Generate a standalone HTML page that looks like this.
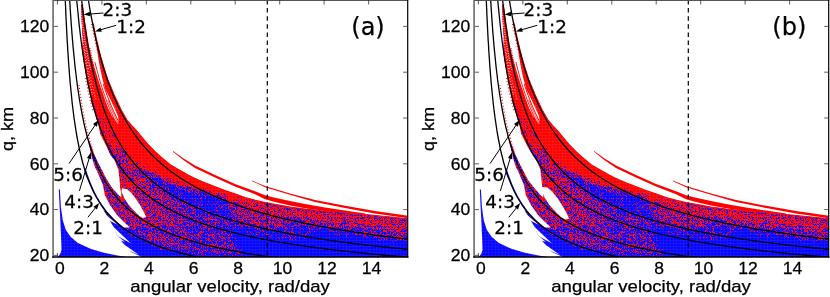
<!DOCTYPE html>
<html><head><meta charset="utf-8"><title>figure</title>
<style>
html,body{margin:0;padding:0;background:#fff;}
svg{display:block;}
text{font-family:"Liberation Sans",sans-serif;fill:#000;stroke:#000;stroke-width:0.25px;}
svg{will-change:transform;}
.dj{font-family:"DejaVu Sans","Liberation Sans",sans-serif;}
</style></head><body>
<svg width="830" height="297" viewBox="0 0 830 297">
<defs>
<pattern id="bl" width="3.36" height="3.0" patternUnits="userSpaceOnUse">
<rect width="3.36" height="3.0" fill="#0505ff"/>
</pattern>
<filter id="spk" filterUnits="userSpaceOnUse" x="40" y="-10" width="390" height="280" color-interpolation-filters="sRGB">
<feGaussianBlur in="SourceGraphic" stdDeviation="3" result="g"/>
<feTurbulence type="fractalNoise" baseFrequency="2.37 1.93" numOctaves="1" seed="7" result="t"/>
<feColorMatrix in="t" type="matrix" values="3 0 0 0 -1  0 0 0 0 0  0 0 0 0 0  0 0 0 0 1" result="t2"/>
<feComposite in="t2" in2="g" operator="arithmetic" k1="0" k2="0.8" k3="1" k4="-0.4" result="s"/>
<feColorMatrix in="s" type="matrix" values="0 0 0 0 1  0 0 0 0 0  0 0 0 0 0  40 0 0 0 -20" result="th"/>
<feGaussianBlur in="th" stdDeviation="0.45"/>
</filter>
<pattern id="gr" width="3.36" height="3.0" patternUnits="userSpaceOnUse">
<rect width="0.9" height="3.0" fill="#fff" fill-opacity="0.085"/>
<rect x="0.9" width="2.46" height="0.8" fill="#fff" fill-opacity="0.085"/>
</pattern>
<clipPath id="pa"><rect x="54" y="0" width="353.6" height="257"/></clipPath>
</defs>
<rect width="830" height="297" fill="#fff"/>

<g transform="translate(0,0)">
<g clip-path="url(#pa)">
<path d="M57.4 258.0 L58.4 256.2 L60.4 253.5 L61.5 250.0 L61.2 240.0 L60.3 220.0 L59.5 205.0 L58.8 189.4 L59.9 189.4 L60.9 207.0 L62.8 220.4 L65.9 229.9 L70.6 236.7 L77.5 242.7 L90.4 248.8 L103.9 252.8 L117.4 255.5 L133.0 258.0Z" fill="url(#bl)"/>
<clipPath id="cba"><path d="M81.2 5.0 L82.8 5.0 L83.2 8.0 L83.5 11.0 L83.9 14.0 L84.3 17.0 L84.7 20.0 L85.0 22.0 L93.0 24.0 L93.3 24.0 L93.9 27.0 L94.5 30.0 L95.1 33.0 L95.8 36.0 L96.4 39.0 L97.1 42.0 L97.9 45.0 L98.6 48.0 L99.3 51.0 L100.1 54.0 L100.9 57.0 L101.8 60.0 L102.6 63.0 L103.5 66.0 L104.4 69.0 L105.4 72.0 L106.3 75.0 L107.3 78.0 L108.0 80.0 L111.3 88.0 L114.2 95.0 L121.2 110.0 L127.0 120.0 L133.0 127.0 L136.9 131.0 L140.2 135.2 L147.7 144.2 L155.3 151.8 L162.9 158.6 L170.5 165.0 L177.0 168.7 L182.9 172.0 L188.0 174.9 L193.5 177.7 L199.0 180.2 L205.6 183.0 L215.2 186.8 L225.0 190.5 L235.4 194.0 L245.0 197.5 L255.6 200.4 L265.0 202.6 L275.0 204.4 L290.0 207.0 L305.0 209.0 L325.0 211.0 L345.0 212.5 L370.0 215.0 L391.0 217.0 L416.0 219.5 L416.0 260.0 L138.0 260.0 L135.4 255.6 L129.3 250.5 L123.3 243.4 L117.2 235.4 L113.2 226.3 L107.0 216.0 L101.0 206.0 L96.5 198.0 L92.0 189.0 L88.5 181.0 L86.0 176.0 L84.7 172.0 L84.3 168.0 L95.3 168.0 L92.7 160.0 L90.7 152.0 L89.3 145.0 L88.7 140.0 L90.8 100.0 L91.5 100.0 L90.7 97.0 L90.0 94.0 L89.3 91.0 L88.7 88.0 L88.0 85.0 L87.4 82.0 L86.8 79.0 L86.3 76.0 L85.7 73.0 L85.2 70.0 L84.7 67.0 L84.2 64.0 L83.7 61.0 L83.2 58.0 L82.8 55.0 L82.3 52.0 L82.6 46.0 L82.8 40.0 L82.3 30.0 L81.4 18.0Z"/></clipPath>
<path d="M81.2 5.0 L82.8 5.0 L83.2 8.0 L83.5 11.0 L83.9 14.0 L84.3 17.0 L84.7 20.0 L85.0 22.0 L93.0 24.0 L93.3 24.0 L93.9 27.0 L94.5 30.0 L95.1 33.0 L95.8 36.0 L96.4 39.0 L97.1 42.0 L97.9 45.0 L98.6 48.0 L99.3 51.0 L100.1 54.0 L100.9 57.0 L101.8 60.0 L102.6 63.0 L103.5 66.0 L104.4 69.0 L105.4 72.0 L106.3 75.0 L107.3 78.0 L108.0 80.0 L111.3 88.0 L114.2 95.0 L121.2 110.0 L127.0 120.0 L133.0 127.0 L136.9 131.0 L140.2 135.2 L147.7 144.2 L155.3 151.8 L162.9 158.6 L170.5 165.0 L177.0 168.7 L182.9 172.0 L188.0 174.9 L193.5 177.7 L199.0 180.2 L205.6 183.0 L215.2 186.8 L225.0 190.5 L235.4 194.0 L245.0 197.5 L255.6 200.4 L265.0 202.6 L275.0 204.4 L290.0 207.0 L305.0 209.0 L325.0 211.0 L345.0 212.5 L370.0 215.0 L391.0 217.0 L416.0 219.5 L416.0 260.0 L138.0 260.0 L135.4 255.6 L129.3 250.5 L123.3 243.4 L117.2 235.4 L113.2 226.3 L107.0 216.0 L101.0 206.0 L96.5 198.0 L92.0 189.0 L88.5 181.0 L86.0 176.0 L84.7 172.0 L84.3 168.0 L95.3 168.0 L92.7 160.0 L90.7 152.0 L89.3 145.0 L88.7 140.0 L90.8 100.0 L91.5 100.0 L90.7 97.0 L90.0 94.0 L89.3 91.0 L88.7 88.0 L88.0 85.0 L87.4 82.0 L86.8 79.0 L86.3 76.0 L85.7 73.0 L85.2 70.0 L84.7 67.0 L84.2 64.0 L83.7 61.0 L83.2 58.0 L82.8 55.0 L82.3 52.0 L82.6 46.0 L82.8 40.0 L82.3 30.0 L81.4 18.0Z" fill="url(#bl)"/>
<g clip-path="url(#cba)"><g filter="url(#spk)">
<rect x="40" y="-10" width="390" height="280" fill="#000"/>
<path d="M80.0 140.0 L92.0 112.0 L96.5 112.0 L99.2 116.0 L107.0 122.0 L111.2 128.0 L115.2 135.0 L120.9 145.0 L127.6 155.0 L133.8 163.0 L140.0 169.8 L150.0 179.3 L160.0 187.1 L170.0 193.8 L185.0 202.1 L200.0 209.0 L215.0 214.7 L224.0 217.8 L221.0 221.0 L227.0 229.0 L233.0 237.0 L240.0 247.0 L246.0 256.0 L249.0 262.0 L240.0 262.0 L225.0 258.5 L200.0 254.0 L175.0 250.5 L163.0 248.5 L150.0 243.3 L140.0 238.7 L130.0 233.1 L120.0 225.9 L110.0 216.6 L100.0 203.7 L92.0 172.0 L85.0 155.0Z" fill="rgb(140,0,0)"/>
<path d="M95.0 125.0 L100.2 134.0 L106.3 146.2 L113.3 160.3 L116.4 168.4 L118.5 180.0 L119.6 190.0 L120.0 200.0 L128.0 200.0 L138.5 190.0 L128.2 180.0 L118.4 168.0 L113.1 160.0 L105.4 146.0 L100.1 134.0 L96.7 125.0 L94.3 118.0Z" fill="rgb(184,0,0)"/>
<path d="M95.0 125.0 L100.2 134.0 L106.3 146.2 L113.3 160.3 L115.5 166.0 L117.0 166.0 L113.1 160.0 L105.4 146.0 L100.1 134.0 L96.7 125.0 L94.3 118.0Z" fill="rgb(230,0,0)"/>
<path d="M93.9 108.0 L93.8 118.0 L98.0 130.0 L103.0 142.0 L106.9 150.0 L126.1 150.0 L121.1 142.0 L114.7 130.0 L109.3 118.0 L105.5 108.0Z" fill="rgb(204,0,0)"/>
<path d="M165.0 190.6 L178.0 198.5 L190.0 204.6 L190.0 253.0 L178.0 251.0 L165.0 249.0Z" fill="rgb(120,0,0)"/>
<path d="M188.0 203.6 L200.0 209.0 L215.0 214.7 L224.0 217.8 L221.0 221.0 L227.0 229.0 L233.0 237.0 L240.0 247.0 L246.0 256.0 L249.0 262.0 L240.0 262.0 L225.0 258.5 L200.0 254.0 L188.0 252.3Z" fill="rgb(97,0,0)"/>
<path d="M222.0 218.1 L235.0 222.1 L250.0 226.2 L264.0 229.5 L258.0 235.2 L245.0 232.4 L232.0 229.3 L224.0 226.0Z" fill="rgb(69,0,0)"/>
<path d="M140.0 222.0 L150.0 227.3 L175.0 230.0 L200.0 232.4 L220.0 238.0 L236.0 246.0 L236.0 250.0 L220.0 245.0 L200.0 240.8 L175.0 239.0 L150.0 235.8 L140.0 230.0Z" fill="rgb(102,0,0)"/>
<path d="M133.8 163.0 L145.0 169.5 L152.6 173.3 L160.2 177.9 L167.7 181.7 L175.3 183.9 L182.9 186.2 L190.5 188.5 L198.0 190.8 L205.6 193.0 L215.0 195.5 L224.3 197.3 L240.0 199.0 L252.0 200.3 L267.0 203.0 L267.0 229.2 L256.0 226.7 L245.0 223.9 L230.0 219.6 L215.0 214.7 L200.0 209.0 L185.0 202.1 L170.0 193.8 L160.0 187.1 L150.0 179.3 L140.0 169.8Z" fill="rgb(38,0,0)"/>
<path d="M225.0 190.5 L235.4 194.0 L245.0 197.5 L255.6 200.4 L265.0 202.6 L275.0 204.4 L290.0 207.0 L305.0 209.0 L325.0 211.0 L345.0 212.5 L370.0 215.0 L391.0 217.0 L416.0 219.5 L416.0 242.0 L407.0 239.5 L350.0 231.4 L325.0 231.0 L300.0 231.0 L285.0 231.0 L267.0 229.2 L256.0 226.7 L245.0 223.9 L230.0 219.6 L225.0 199.0Z" fill="rgb(128,0,0)"/>
<path d="M285.0 218.8 L300.0 222.2 L325.0 227.1 L350.0 231.4 L380.0 235.7 L416.0 240.1 L416.0 244.6 L380.0 240.2 L350.0 235.9 L325.0 231.6 L300.0 226.7 L285.0 223.3Z" fill="rgb(76,0,0)"/>
<path d="M200.0 209.5 L215.0 215.2 L230.0 220.1 L245.0 224.4 L256.0 227.2 L267.0 229.7 L285.0 233.4 L300.0 236.1 L320.0 239.3 L335.0 241.5 L335.0 242.5 L320.0 241.8 L300.0 240.1 L285.0 237.9 L267.0 234.7 L256.0 232.7 L245.0 229.9 L230.0 225.6 L215.0 220.7 L200.0 215.0Z" fill="rgb(107,0,0)"/>
<path d="M225.0 190.5 L235.4 194.0 L245.0 197.5 L255.6 200.4 L265.0 202.6 L275.0 204.4 L290.0 207.0 L305.0 209.0 L325.0 211.0 L345.0 212.5 L370.0 215.0 L391.0 217.0 L416.0 219.5 L416.0 231.0 L416.0 229.5 L391.0 227.0 L370.0 225.0 L345.0 222.5 L325.0 221.0 L305.0 219.0 L290.0 217.0 L275.0 214.4 L265.0 212.6 L255.6 210.4 L245.0 207.5 L235.4 204.0 L225.0 200.5Z" fill="rgb(168,0,0)"/>
<path d="M225.0 190.5 L235.4 194.0 L245.0 197.5 L255.6 200.4 L265.0 202.6 L275.0 204.4 L290.0 207.0 L305.0 209.0 L325.0 211.0 L345.0 212.5 L370.0 215.0 L391.0 217.0 L416.0 219.5 L416.0 225.0 L416.0 223.5 L391.0 221.0 L370.0 219.0 L345.0 216.5 L325.0 215.0 L305.0 213.0 L290.0 211.0 L275.0 208.4 L265.0 206.6 L255.6 204.4 L245.0 201.5 L235.4 198.0 L225.0 194.5Z" fill="rgb(217,0,0)"/>
<path d="M87.2 -3.0 L88.8 -3.0 L89.2 0.0 L89.5 3.0 L89.9 6.0 L90.3 9.0 L90.7 12.0 L91.0 14.0 L99.0 16.0 L99.3 16.0 L99.9 19.0 L100.5 22.0 L101.1 25.0 L101.8 28.0 L102.4 31.0 L103.1 34.0 L103.9 37.0 L104.6 40.0 L105.3 43.0 L106.1 46.0 L106.9 49.0 L107.8 52.0 L108.6 55.0 L109.5 58.0 L110.4 61.0 L111.4 64.0 L112.3 67.0 L113.3 70.0 L114.0 72.0 L117.3 80.0 L120.2 87.0 L127.2 102.0 L133.0 112.0 L139.0 119.0 L142.9 123.0 L146.2 127.2 L153.7 136.2 L161.3 143.8 L168.9 150.6 L176.5 157.0 L183.0 160.7 L188.9 164.0 L194.0 166.9 L199.5 169.7 L205.0 172.2 L211.6 175.0 L221.2 178.8 L231.0 182.5 L241.4 186.0 L251.0 189.5 L261.6 192.4 L262.0 200.5 L252.0 200.3 L240.0 199.0 L224.3 197.3 L215.0 195.5 L205.6 193.0 L198.0 190.8 L190.5 188.5 L182.9 186.2 L175.3 183.9 L167.7 181.7 L160.2 177.9 L152.6 173.3 L145.0 169.5 L133.8 163.0 L127.6 155.0 L120.9 145.0 L115.2 135.0 L111.2 128.0 L107.0 122.0 L99.2 116.0 L96.5 112.0 L95.8 112.0 L85.8 100.0 L85.8 100.0 L85.0 97.0 L84.3 94.0 L83.6 91.0 L83.0 88.0 L82.3 85.0 L81.7 82.0 L81.1 79.0 L80.6 76.0 L80.0 73.0 L79.5 70.0 L79.0 67.0 L78.5 64.0 L78.0 61.0 L77.5 58.0 L77.1 55.0 L76.6 52.0 L76.2 49.0 L75.8 46.0 L75.4 43.0 L75.0 40.0 L71.6 0.0Z" fill="rgb(255,0,0)"/>
</g></g>
<path d="M81.2 5.0 L82.8 5.0 L83.2 8.0 L83.5 11.0 L83.9 14.0 L84.3 17.0 L84.7 20.0 L85.0 22.0 L93.0 24.0 L93.3 24.0 L93.9 27.0 L94.5 30.0 L95.1 33.0 L95.8 36.0 L96.4 39.0 L97.1 42.0 L97.9 45.0 L98.6 48.0 L99.3 51.0 L100.1 54.0 L100.9 57.0 L101.8 60.0 L102.6 63.0 L103.5 66.0 L104.4 69.0 L105.4 72.0 L106.3 75.0 L107.3 78.0 L108.0 80.0 L111.3 88.0 L114.2 95.0 L121.2 110.0 L127.0 120.0 L133.0 127.0 L136.9 131.0 L140.2 135.2 L147.7 144.2 L155.3 151.8 L162.9 158.6 L170.5 165.0 L177.0 168.7 L182.9 172.0 L188.0 174.9 L193.5 177.7 L199.0 180.2 L205.6 183.0 L215.2 186.8 L225.0 190.5 L235.4 194.0 L245.0 197.5 L255.6 200.4 L265.0 202.6 L275.0 204.4 L290.0 207.0 L305.0 209.0 L325.0 211.0 L345.0 212.5 L370.0 215.0 L391.0 217.0 L416.0 219.5" fill="none" stroke="#ff0000" stroke-width="1.1"/>
<path d="M85.5 168.0 L86.4 171.0 L87.4 174.0 L88.5 177.0 L89.6 180.0 L90.8 183.0 L92.0 186.0 L93.4 189.0 L94.8 192.0 L96.3 195.0 L98.0 198.0 L99.8 201.0 L101.7 204.0 L103.8 207.0 L106.0 210.0 L108.5 213.0 L111.1 216.0 L114.0 219.0 L117.1 221.9 L120.2 224.6 L123.3 227.1 L124.0 227.6 L129.8 227.6 L124.0 222.0 L117.0 215.0 L110.0 205.0 L104.8 195.0 L102.9 185.0 L96.6 170.0 L95.3 168.0 L85.5 168.0Z" fill="#fff"/>
<path d="M80.4 100.0 L84.1 120.0 L89.1 140.0 L94.6 155.0 L99.3 165.0 L107.1 180.0 L112.3 188.0 L116.5 192.8 L119.5 196.0 L121.3 197.2 L121.2 193.0 L120.4 189.4 L119.5 179.3 L118.3 169.2 L114.6 160.4 L110.4 155.1 L106.4 146.2 L100.2 134.0 L98.4 125.0 L90.6 100.0Z" fill="#fff"/>
<path d="M121.6 190.5 L122.3 188.3 L126.7 188.9 L131.2 192.7 L135.8 198.7 L140.3 205.6 L144.1 212.4 L146.2 217.3 L142.6 218.0 L138.8 215.6 L133.5 210.3 L128.2 204.2 L124.4 198.2 L121.8 192.6Z" fill="#fff"/>
<path d="M82.9 4.0 L85.2 22.0 L88.8 45.0 L91.2 56.0 L94.3 67.0 L97.7 78.0 L101.6 90.0 L105.0 100.0 L108.0 108.0 L112.0 116.0 L118.0 124.0 L118.6 122.0 L118.2 116.0 L115.3 108.0 L110.8 100.0 L105.6 90.0 L102.2 78.0 L99.9 67.0 L97.9 56.0 L96.3 45.0 L93.7 30.0 L92.3 22.0Z" fill="#fff"/>
<path d="M112.5 226.0 L131.0 243.5 L117.5 236.0Z" fill="#fff"/>
<path d="M122.0 243.0 L139.0 255.0 L127.5 250.0Z" fill="#fff"/>
<path d="M105.5 214.5 L118.0 225.0 L108.5 220.0Z" fill="#fff"/>
<path d="M100.5 205.5 L109.0 212.5 L103.0 210.0Z" fill="#fff"/>
<path d="M116.5 235.0 L125.0 242.0 L119.0 240.0Z" fill="#fff"/>
<path d="M131.0 252.0 L144.0 258.0 L134.0 256.0Z" fill="#fff"/>
<path d="M94.9 62.0 L95.6 65.0 L96.4 68.0 L97.2 71.0 L98.0 74.0 L98.8 77.0 L99.7 80.0 L100.6 83.0 L101.5 86.0 L102.4 89.0 L103.4 92.0 L104.5 95.0 L105.5 98.0 L106.6 101.0 L107.8 104.0 L108.9 107.0 L110.2 110.0 L111.5 113.0 L112.8 116.0 L114.2 119.0 L115.1 121.0" fill="none" stroke="#ff0000" stroke-width="0.9"/>
<path d="M103.3 84.0 L104.2 87.0 L105.2 90.0 L106.3 93.0 L107.4 96.0 L108.5 99.0 L109.7 102.0 L110.9 105.0 L112.2 108.0 L113.5 111.0 L114.9 114.0 L116.3 117.0 L117.8 120.0 L119.3 123.0" fill="none" stroke="#ff0000" stroke-width="1.0"/>
<path d="M109.8 96.0 L110.9 99.0 L112.2 102.0 L113.4 105.0 L114.8 108.0 L116.1 111.0 L117.6 114.0 L119.1 117.0 L120.6 120.0 L121.7 122.0" fill="none" stroke="#ff0000" stroke-width="0.9"/>
<path d="M107.7 100.0 L108.9 103.0 L110.1 106.0 L111.3 109.0 L112.6 112.0 L114.0 115.0 L115.4 118.0 L116.9 121.0 L117.9 123.0" fill="none" stroke="#ff0000" stroke-width="0.7"/>
<path d="M100.4 88.0 L101.4 91.0 L102.4 94.0 L103.4 97.0 L104.4 100.0 L105.5 103.0 L106.6 106.0 L107.8 109.0 L109.0 112.0 L110.3 115.0 L111.6 118.0" fill="none" stroke="#ff0000" stroke-width="0.7"/>
<path d="M91.4 24.0 L92.0 27.0 L92.6 30.0 L93.2 33.0 L93.9 36.0 L94.5 39.0 L95.2 42.0 L96.0 45.0 L96.7 48.0 L97.2 50.0" fill="none" stroke="#ff0000" stroke-width="1.1" stroke-dasharray="1 2.2"/>
<path d="M80.4 8.0 L80.7 11.0 L81.1 14.0 L81.5 17.0 L81.9 20.0 L82.3 23.0 L82.7 26.0 L83.2 29.0 L83.6 32.0 L84.1 35.0 L84.5 38.0 L85.0 41.0 L85.5 44.0 L86.0 47.0 L86.6 50.0 L87.1 53.0 L87.7 56.0 L88.3 59.0 L88.9 62.0 L89.5 65.0 L90.1 68.0 L90.6 70.0" fill="none" stroke="#fff" stroke-width="1.0" stroke-dasharray="0.9 1.5"/>
<path d="M82.4 36.0 L82.8 39.0 L83.2 42.0 L83.5 45.0 L84.0 48.0 L84.4 51.0 L84.8 54.0 L85.3 57.0 L85.7 60.0 L86.2 63.0 L86.7 66.0 L87.2 69.0 L87.7 72.0 L88.3 75.0 L88.8 78.0 L89.4 81.0 L90.0 84.0 L90.7 87.0 L91.3 90.0 L92.0 93.0 L92.4 95.0" fill="none" stroke="#fff" stroke-width="1.0" stroke-dasharray="0.8 1.9"/>
<path d="M85.0 50.0 L85.5 53.0 L86.0 56.0 L86.6 59.0 L87.1 62.0 L87.7 65.0 L88.3 68.0 L88.9 71.0 L89.6 74.0 L90.2 77.0 L90.9 80.0 L91.6 83.0 L92.4 86.0 L93.1 89.0 L93.9 92.0 L94.7 95.0 L95.6 98.0 L96.2 100.0" fill="none" stroke="#fff" stroke-width="0.9" stroke-dasharray="0.8 2.3"/>
<path d="M90.0 48.0 L90.6 51.0 L91.1 54.0 L91.7 57.0 L92.3 60.0 L92.9 63.0 L93.5 66.0 L94.2 69.0 L94.8 72.0 L95.5 75.0 L96.3 78.0 L97.0 81.0 L97.8 84.0 L98.6 87.0 L99.4 90.0 L100.0 92.0" fill="none" stroke="#ff0000" stroke-width="1.2" stroke-dasharray="1 1.3"/>
<path d="M85.3 78.0 L85.9 81.0 L86.5 84.0 L87.2 87.0 L87.8 90.0 L88.5 93.0 L89.2 96.0 L89.9 99.0 L90.7 102.0 L91.4 105.0 L92.3 108.0 L93.1 111.0 L93.4 112.0" fill="none" stroke="#ff0000" stroke-width="1.1" stroke-dasharray="1 2.2"/>
<path d="M78.9 85.0 L79.4 88.0 L79.8 91.0 L80.2 94.0 L80.7 97.0 L81.2 100.0 L81.7 103.0 L82.2 106.0 L82.7 109.0 L83.3 112.0 L83.9 115.0 L84.5 118.0 L85.1 121.0 L85.7 124.0 L86.4 127.0 L87.1 130.0 L87.9 133.0 L88.7 136.0 L89.5 139.0 L90.3 142.0 L91.2 145.0 L92.2 148.0 L92.8 150.0" fill="none" stroke="#ff0000" stroke-width="1.1" stroke-dasharray="1 2"/>
<path d="M173.0 151.0 L184.0 158.8 L195.0 165.6 L215.0 174.9 L235.0 184.0 L255.0 191.3 L265.0 195.2 L275.0 197.8 L290.0 201.0 L305.0 204.0 L325.0 207.5 L345.0 210.5 L365.0 213.5 L365.0 215.0 L345.0 213.0 L325.0 211.0 L305.0 208.3 L290.0 205.5 L275.0 202.0 L265.0 199.3 L255.0 194.2 L235.0 186.6 L215.0 177.4 L195.0 167.9 L184.0 160.4 L173.0 151.7Z" fill="#ff0000"/>
<path d="M252.0 180.6 L265.0 186.1 L290.0 193.5 L315.0 199.9 L345.0 205.8 L375.0 211.1 L416.0 216.8 L416.0 219.3 L375.0 213.4 L345.0 208.0 L315.0 201.9 L290.0 194.8 L265.0 187.2 L252.0 181.2Z" fill="#ff0000"/>
<path d="M81.2 5.0 L82.8 5.0 L83.2 8.0 L83.5 11.0 L83.9 14.0 L84.3 17.0 L84.7 20.0 L85.0 22.0 L93.0 24.0 L93.3 24.0 L93.9 27.0 L94.5 30.0 L95.1 33.0 L95.8 36.0 L96.4 39.0 L97.1 42.0 L97.9 45.0 L98.6 48.0 L99.3 51.0 L100.1 54.0 L100.9 57.0 L101.8 60.0 L102.6 63.0 L103.5 66.0 L104.4 69.0 L105.4 72.0 L106.3 75.0 L107.3 78.0 L108.0 80.0 L111.3 88.0 L114.2 95.0 L121.2 110.0 L127.0 120.0 L133.0 127.0 L136.9 131.0 L140.2 135.2 L147.7 144.2 L155.3 151.8 L162.9 158.6 L170.5 165.0 L177.0 168.7 L182.9 172.0 L188.0 174.9 L193.5 177.7 L199.0 180.2 L205.6 183.0 L215.2 186.8 L225.0 190.5 L235.4 194.0 L245.0 197.5 L255.6 200.4 L265.0 202.6 L275.0 204.4 L290.0 207.0 L305.0 209.0 L325.0 211.0 L345.0 212.5 L370.0 215.0 L391.0 217.0 L416.0 219.5 L416.0 260.0 L138.0 260.0 L135.4 255.6 L129.3 250.5 L123.3 243.4 L117.2 235.4 L113.2 226.3 L107.0 216.0 L101.0 206.0 L96.5 198.0 L92.0 189.0 L88.5 181.0 L86.0 176.0 L84.7 172.0 L84.3 168.0 L95.3 168.0 L92.7 160.0 L90.7 152.0 L89.3 145.0 L88.7 140.0 L90.8 100.0 L91.5 100.0 L90.7 97.0 L90.0 94.0 L89.3 91.0 L88.7 88.0 L88.0 85.0 L87.4 82.0 L86.8 79.0 L86.3 76.0 L85.7 73.0 L85.2 70.0 L84.7 67.0 L84.2 64.0 L83.7 61.0 L83.2 58.0 L82.8 55.0 L82.3 52.0 L82.6 46.0 L82.8 40.0 L82.3 30.0 L81.4 18.0Z" fill="url(#gr)"/>
<path d="M57.4 258.0 L58.4 256.2 L60.4 253.5 L61.5 250.0 L61.2 240.0 L60.3 220.0 L59.5 205.0 L58.8 189.4 L59.9 189.4 L60.9 207.0 L62.8 220.4 L65.9 229.9 L70.6 236.7 L77.5 242.7 L90.4 248.8 L103.9 252.8 L117.4 255.5 L133.0 258.0Z" fill="url(#gr)"/>
<path d="M65.2 -3.0 L65.3 -1.0 L65.3 1.0 L65.4 3.0 L65.5 5.0 L65.6 7.0 L65.7 9.0 L65.8 11.0 L65.8 13.0 L65.9 15.0 L66.0 17.0 L66.1 19.0 L66.2 21.0 L66.3 23.0 L66.4 25.0 L66.5 27.0 L66.6 29.0 L66.7 31.0 L66.8 33.0 L66.9 35.0 L67.0 37.0 L67.1 39.0 L67.2 41.0 L67.4 43.0 L67.5 45.0 L67.6 47.0 L67.7 49.0 L67.8 51.0 L68.0 53.0 L68.1 55.0 L68.2 57.0 L68.4 59.0 L68.5 61.0 L68.6 63.0 L68.8 65.0 L68.9 67.0 L69.1 69.0 L69.2 71.0 L69.4 73.0 L69.5 75.0 L69.7 77.0 L69.9 79.0 L70.0 81.0 L70.2 83.0 L70.4 85.0 L70.6 87.0 L70.8 89.0 L71.0 91.0 L71.2 93.0 L71.4 95.0 L71.6 97.0 L71.8 99.0 L72.0 101.0 L72.2 103.0 L72.4 105.0 L72.7 107.0 L72.9 109.0 L73.2 111.0 L73.4 113.0 L73.7 115.0 L73.9 117.0 L74.2 119.0 L74.5 121.0 L74.8 123.0 L75.1 125.0 L75.4 127.0 L75.7 129.0 L76.0 131.0 L76.3 133.0 L76.7 135.0 L77.0 137.0 L77.4 139.0 L77.8 141.0 L78.2 143.0 L78.6 145.0 L79.0 147.0 L79.4 149.0 L79.8 151.0 L80.3 153.0 L80.8 155.0 L81.3 157.0 L81.8 159.0 L82.3 161.0 L82.8 163.0 L83.4 165.0 L84.0 167.0 L84.6 169.0 L85.2 171.0 L85.9 173.0 L86.5 175.0 L87.3 177.0 L88.0 179.0 L88.8 181.0 L89.6 183.0 L90.4 185.0 L91.3 187.0 L92.2 189.0 L93.1 191.0 L94.1 193.0 L95.1 195.0 L96.2 197.0 L97.4 199.0 L98.6 201.0 L99.9 203.0 L101.2 205.0 L102.6 207.0 L104.1 209.0 L105.6 211.0 L107.3 213.0 L109.0 215.0 L110.9 217.0 L112.8 219.0 L114.9 221.0 L116.9 222.8 L119.0 224.6 L121.0 226.2 L123.0 227.8 L125.1 229.2 L127.1 230.7 L129.1 232.0 L131.2 233.3 L133.2 234.5 L135.2 235.7 L137.2 236.8 L139.2 237.8 L141.3 238.9 L143.3 239.8 L145.3 240.8 L147.3 241.7 L149.3 242.6 L151.4 243.4 L153.4 244.2 L155.4 245.0 L157.4 245.8 L159.4 246.5 L161.4 247.2 L163.4 247.9 L165.4 248.5 L167.4 249.2 L169.4 249.8 L171.4 250.4 L173.5 251.0 L175.5 251.6 L177.5 252.1 L179.5 252.7 L181.5 253.2 L183.5 253.7 L185.5 254.2 L187.5 254.7 L189.5 255.2 L191.5 255.6 L193.5 256.1 L195.5 256.5 L197.4 256.9 L199.4 257.3 L201.4 257.7 L203.4 258.1 L205.4 258.5 L207.4 258.9 L209.4 259.3 L211.4 259.6 L213.4 260.0 L215.4 260.3 L217.4 260.7 L219.4 261.0 L221.4 261.3 L223.3 261.7 L225.3 262.0 L225.5 262.0" fill="none" stroke="#000" stroke-width="1.3"/>
<path d="M69.5 -3.0 L69.6 -1.0 L69.7 1.0 L69.9 3.0 L70.0 5.0 L70.1 7.0 L70.2 9.0 L70.4 11.0 L70.5 13.0 L70.6 15.0 L70.8 17.0 L70.9 19.0 L71.0 21.0 L71.2 23.0 L71.3 25.0 L71.5 27.0 L71.6 29.0 L71.8 31.0 L71.9 33.0 L72.1 35.0 L72.3 37.0 L72.4 39.0 L72.6 41.0 L72.8 43.0 L72.9 45.0 L73.1 47.0 L73.3 49.0 L73.5 51.0 L73.7 53.0 L73.9 55.0 L74.1 57.0 L74.3 59.0 L74.5 61.0 L74.7 63.0 L74.9 65.0 L75.1 67.0 L75.3 69.0 L75.6 71.0 L75.8 73.0 L76.1 75.0 L76.3 77.0 L76.5 79.0 L76.8 81.0 L77.1 83.0 L77.3 85.0 L77.6 87.0 L77.9 89.0 L78.2 91.0 L78.5 93.0 L78.8 95.0 L79.1 97.0 L79.4 99.0 L79.7 101.0 L80.1 103.0 L80.4 105.0 L80.8 107.0 L81.1 109.0 L81.5 111.0 L81.9 113.0 L82.3 115.0 L82.7 117.0 L83.1 119.0 L83.5 121.0 L83.9 123.0 L84.4 125.0 L84.8 127.0 L85.3 129.0 L85.8 131.0 L86.3 133.0 L86.8 135.0 L87.3 137.0 L87.9 139.0 L88.5 141.0 L89.0 143.0 L89.6 145.0 L90.3 147.0 L90.9 149.0 L91.6 151.0 L92.3 153.0 L93.0 155.0 L93.7 157.0 L94.5 159.0 L95.3 161.0 L96.1 163.0 L96.9 165.0 L97.8 167.0 L98.7 169.0 L99.7 171.0 L100.7 173.0 L101.7 175.0 L102.8 177.0 L103.9 179.0 L105.0 181.0 L106.2 183.0 L107.5 185.0 L108.8 187.0 L110.2 189.0 L111.6 191.0 L113.1 193.0 L114.7 195.0 L116.4 197.0 L118.1 199.0 L119.9 201.0 L121.8 203.0 L123.9 205.0 L125.9 206.9 L127.9 208.7 L130.0 210.5 L132.0 212.1 L134.0 213.7 L136.1 215.2 L138.1 216.7 L140.1 218.1 L142.1 219.4 L144.2 220.7 L146.2 221.9 L148.2 223.1 L150.2 224.2 L152.3 225.3 L154.3 226.4 L156.3 227.4 L158.3 228.4 L160.3 229.3 L162.3 230.3 L164.3 231.2 L166.4 232.0 L168.4 232.9 L170.4 233.7 L172.4 234.5 L174.4 235.2 L176.4 236.0 L178.4 236.7 L180.4 237.4 L182.4 238.1 L184.4 238.7 L186.5 239.4 L188.5 240.0 L190.5 240.6 L192.5 241.2 L194.5 241.8 L196.5 242.4 L198.5 243.0 L200.5 243.5 L202.5 244.0 L204.5 244.5 L206.5 245.1 L208.5 245.6 L210.5 246.0 L212.5 246.5 L214.5 247.0 L216.5 247.4 L218.5 247.9 L220.5 248.3 L222.5 248.7 L224.5 249.2 L226.5 249.6 L228.5 250.0 L230.4 250.4 L232.4 250.7 L234.4 251.1 L236.4 251.5 L238.4 251.9 L240.4 252.2 L242.4 252.6 L244.4 252.9 L246.4 253.3 L248.4 253.6 L250.4 253.9 L252.4 254.2 L254.4 254.5 L256.3 254.9 L258.3 255.2 L260.3 255.5 L262.3 255.8 L264.4 256.1 L266.5 256.4 L268.6 256.7 L270.8 257.0 L273.0 257.3 L275.2 257.6 L277.5 257.9 L279.8 258.2 L282.1 258.5 L284.5 258.8 L287.0 259.1 L289.4 259.4 L292.0 259.7 L294.5 260.0 L297.2 260.3 L299.8 260.6 L302.5 260.9 L305.3 261.2 L308.1 261.5 L311.0 261.8 L313.3 262.0" fill="none" stroke="#000" stroke-width="1.3"/>
<path d="M76.5 -3.0 L76.6 -1.0 L76.8 1.0 L77.0 3.0 L77.2 5.0 L77.4 7.0 L77.6 9.0 L77.8 11.0 L78.0 13.0 L78.2 15.0 L78.4 17.0 L78.6 19.0 L78.8 21.0 L79.0 23.0 L79.2 25.0 L79.4 27.0 L79.7 29.0 L79.9 31.0 L80.1 33.0 L80.4 35.0 L80.6 37.0 L80.9 39.0 L81.1 41.0 L81.4 43.0 L81.6 45.0 L81.9 47.0 L82.2 49.0 L82.5 51.0 L82.8 53.0 L83.1 55.0 L83.4 57.0 L83.7 59.0 L84.0 61.0 L84.3 63.0 L84.6 65.0 L85.0 67.0 L85.3 69.0 L85.7 71.0 L86.0 73.0 L86.4 75.0 L86.8 77.0 L87.1 79.0 L87.5 81.0 L87.9 83.0 L88.3 85.0 L88.8 87.0 L89.2 89.0 L89.6 91.0 L90.1 93.0 L90.5 95.0 L91.0 97.0 L91.5 99.0 L92.0 101.0 L92.5 103.0 L93.0 105.0 L93.6 107.0 L94.1 109.0 L94.7 111.0 L95.3 113.0 L95.9 115.0 L96.5 117.0 L97.1 119.0 L97.8 121.0 L98.5 123.0 L99.2 125.0 L99.9 127.0 L100.6 129.0 L101.4 131.0 L102.2 133.0 L103.0 135.0 L103.8 137.0 L104.6 139.0 L105.5 141.0 L106.4 143.0 L107.4 145.0 L108.4 147.0 L109.4 149.0 L110.4 151.0 L111.5 153.0 L112.6 155.0 L113.8 157.0 L115.0 159.0 L116.2 161.0 L117.5 163.0 L118.8 165.0 L120.2 167.0 L121.7 169.0 L123.2 171.0 L124.7 173.0 L126.3 175.0 L128.0 177.0 L129.8 179.0 L131.6 181.0 L133.6 183.0 L135.6 185.0 L137.6 186.9 L139.6 188.8 L141.7 190.6 L143.7 192.3 L145.7 193.9 L147.7 195.5 L149.8 197.0 L151.8 198.5 L153.8 199.9 L155.8 201.3 L157.9 202.6 L159.9 203.8 L161.9 205.1 L163.9 206.3 L165.9 207.4 L168.0 208.5 L170.0 209.6 L172.0 210.7 L174.0 211.7 L176.0 212.7 L178.0 213.6 L180.0 214.6 L182.1 215.5 L184.1 216.4 L186.1 217.2 L188.1 218.1 L190.1 218.9 L192.1 219.7 L194.1 220.5 L196.1 221.2 L198.1 222.0 L200.1 222.7 L202.2 223.4 L204.2 224.1 L206.2 224.7 L208.2 225.4 L210.2 226.0 L212.2 226.7 L214.2 227.3 L216.2 227.9 L218.2 228.5 L220.2 229.1 L222.2 229.6 L224.2 230.2 L226.2 230.7 L228.2 231.3 L230.2 231.8 L232.2 232.3 L234.2 232.8 L236.2 233.3 L238.2 233.8 L240.2 234.3 L242.2 234.7 L244.2 235.2 L246.2 235.6 L248.2 236.1 L250.2 236.5 L252.2 236.9 L254.2 237.4 L256.2 237.8 L258.2 238.2 L260.2 238.6 L262.2 239.0 L264.2 239.4 L266.2 239.7 L268.2 240.1 L270.1 240.5 L272.1 240.9 L274.1 241.2 L276.1 241.6 L278.1 241.9 L280.1 242.3 L282.1 242.6 L284.1 242.9 L286.1 243.2 L288.1 243.6 L290.1 243.9 L292.1 244.2 L294.1 244.5 L296.0 244.8 L298.0 245.1 L300.1 245.4 L302.1 245.7 L304.2 246.0 L306.3 246.3 L308.4 246.6 L310.6 246.9 L312.8 247.2 L315.0 247.5 L317.3 247.8 L319.6 248.1 L321.9 248.4 L324.2 248.7 L326.6 249.0 L329.1 249.3 L331.5 249.6 L334.0 249.9 L336.6 250.2 L339.2 250.5 L341.8 250.8 L344.4 251.1 L347.1 251.4 L349.9 251.7 L352.7 252.0 L355.5 252.3 L358.4 252.6 L361.3 252.9 L364.3 253.2 L367.3 253.5 L370.4 253.8 L373.5 254.1 L376.6 254.4 L379.9 254.7 L383.1 255.0 L386.5 255.3 L389.9 255.6 L393.3 255.9 L396.8 256.2 L400.4 256.5 L404.0 256.8 L407.7 257.1 L411.4 257.4 L415.3 257.7" fill="none" stroke="#000" stroke-width="1.3"/>
<path d="M81.3 -3.0 L81.5 -1.0 L81.7 1.0 L82.0 3.0 L82.2 5.0 L82.4 7.0 L82.7 9.0 L82.9 11.0 L83.2 13.0 L83.4 15.0 L83.7 17.0 L84.0 19.0 L84.2 21.0 L84.5 23.0 L84.8 25.0 L85.1 27.0 L85.4 29.0 L85.7 31.0 L86.0 33.0 L86.3 35.0 L86.6 37.0 L86.9 39.0 L87.2 41.0 L87.6 43.0 L87.9 45.0 L88.2 47.0 L88.6 49.0 L89.0 51.0 L89.3 53.0 L89.7 55.0 L90.1 57.0 L90.5 59.0 L90.9 61.0 L91.3 63.0 L91.7 65.0 L92.1 67.0 L92.6 69.0 L93.0 71.0 L93.5 73.0 L93.9 75.0 L94.4 77.0 L94.9 79.0 L95.4 81.0 L95.9 83.0 L96.4 85.0 L97.0 87.0 L97.5 89.0 L98.1 91.0 L98.7 93.0 L99.3 95.0 L99.9 97.0 L100.5 99.0 L101.1 101.0 L101.8 103.0 L102.5 105.0 L103.2 107.0 L103.9 109.0 L104.6 111.0 L105.3 113.0 L106.1 115.0 L106.9 117.0 L107.7 119.0 L108.6 121.0 L109.4 123.0 L110.3 125.0 L111.2 127.0 L112.2 129.0 L113.1 131.0 L114.1 133.0 L115.2 135.0 L116.2 137.0 L117.3 139.0 L118.5 141.0 L119.6 143.0 L120.9 145.0 L122.1 147.0 L123.4 149.0 L124.7 151.0 L126.1 153.0 L127.6 155.0 L129.0 157.0 L130.6 159.0 L132.2 161.0 L133.8 163.0 L135.6 165.0 L137.4 167.0 L139.2 169.0 L141.1 171.0 L143.1 173.0 L145.2 174.9 L147.2 176.8 L149.2 178.6 L151.3 180.3 L153.3 182.0 L155.3 183.6 L157.3 185.2 L159.4 186.7 L161.4 188.1 L163.4 189.5 L165.4 190.9 L167.4 192.2 L169.5 193.5 L171.5 194.7 L173.5 195.9 L175.5 197.1 L177.5 198.2 L179.5 199.3 L181.6 200.4 L183.6 201.4 L185.6 202.4 L187.6 203.4 L189.6 204.4 L191.6 205.3 L193.6 206.2 L195.6 207.1 L197.7 208.0 L199.7 208.8 L201.7 209.7 L203.7 210.5 L205.7 211.3 L207.7 212.1 L209.7 212.8 L211.7 213.6 L213.7 214.3 L215.7 215.0 L217.7 215.7 L219.7 216.4 L221.7 217.0 L223.7 217.7 L225.8 218.3 L227.8 219.0 L229.8 219.6 L231.8 220.2 L233.8 220.8 L235.8 221.3 L237.8 221.9 L239.8 222.5 L241.8 223.0 L243.8 223.6 L245.8 224.1 L247.8 224.6 L249.8 225.1 L251.8 225.6 L253.8 226.1 L255.8 226.6 L257.8 227.1 L259.8 227.5 L261.8 228.0 L263.8 228.5 L265.8 228.9 L267.8 229.4 L269.8 229.8 L271.8 230.2 L273.8 230.6 L275.8 231.0 L277.8 231.5 L279.7 231.9 L281.7 232.2 L283.7 232.6 L285.7 233.0 L287.7 233.4 L289.7 233.8 L291.7 234.1 L293.7 234.5 L295.7 234.9 L297.7 235.2 L299.7 235.6 L301.7 235.9 L303.7 236.2 L305.7 236.6 L307.7 236.9 L309.7 237.2 L311.7 237.5 L313.7 237.9 L315.6 238.2 L317.6 238.5 L319.6 238.8 L321.6 239.1 L323.6 239.4 L325.7 239.7 L327.7 240.0 L329.8 240.3 L331.9 240.6 L334.1 240.9 L336.3 241.2 L338.5 241.5 L340.7 241.8 L342.9 242.1 L345.2 242.4 L347.5 242.7 L349.9 243.0 L352.3 243.3 L354.7 243.6 L357.1 243.9 L359.6 244.2 L362.1 244.5 L364.7 244.8 L367.3 245.1 L369.9 245.4 L372.5 245.7 L375.2 246.0 L378.0 246.3 L380.7 246.6 L383.5 246.9 L386.4 247.2 L389.3 247.5 L392.2 247.8 L395.2 248.1 L398.2 248.4 L401.3 248.7 L404.4 249.0 L407.5 249.3 L410.7 249.6 L414.0 249.9" fill="none" stroke="#000" stroke-width="1.3"/>
<path d="M87.9 -3.0 L88.2 -1.0 L88.5 1.0 L88.9 3.0 L89.2 5.0 L89.5 7.0 L89.9 9.0 L90.2 11.0 L90.6 13.0 L91.0 15.0 L91.3 17.0 L91.7 19.0 L92.1 21.0 L92.5 23.0 L92.9 25.0 L93.3 27.0 L93.7 29.0 L94.1 31.0 L94.5 33.0 L95.0 35.0 L95.4 37.0 L95.8 39.0 L96.3 41.0 L96.8 43.0 L97.3 45.0 L97.7 47.0 L98.2 49.0 L98.7 51.0 L99.3 53.0 L99.8 55.0 L100.3 57.0 L100.9 59.0 L101.4 61.0 L102.0 63.0 L102.6 65.0 L103.2 67.0 L103.8 69.0 L104.4 71.0 L105.1 73.0 L105.7 75.0 L106.4 77.0 L107.1 79.0 L107.8 81.0 L108.5 83.0 L109.2 85.0 L110.0 87.0 L110.7 89.0 L111.5 91.0 L112.3 93.0 L113.2 95.0 L114.0 97.0 L114.9 99.0 L115.8 101.0 L116.7 103.0 L117.6 105.0 L118.6 107.0 L119.5 109.0 L120.6 111.0 L121.6 113.0 L122.7 115.0 L123.7 117.0 L124.9 119.0 L126.0 121.0 L127.2 123.0 L128.4 125.0 L129.7 127.0 L131.0 129.0 L132.3 131.0 L133.7 133.0 L135.1 135.0 L136.6 137.0 L138.1 139.0 L139.6 141.0 L141.2 143.0 L142.9 145.0 L144.6 147.0 L146.4 149.0 L148.2 151.0 L150.1 153.0 L152.0 155.0 L154.0 157.0 L156.1 158.9 L158.1 160.8 L160.1 162.6 L162.1 164.4 L164.2 166.1 L166.2 167.7 L168.2 169.3 L170.2 170.9 L172.2 172.4 L174.3 173.8 L176.3 175.2 L178.3 176.6 L180.3 178.0 L182.3 179.3 L184.3 180.5 L186.4 181.8 L188.4 183.0 L190.4 184.1 L192.4 185.3 L194.4 186.4 L196.4 187.5 L198.4 188.6 L200.5 189.6 L202.5 190.6 L204.5 191.6 L206.5 192.6 L208.5 193.5 L210.5 194.4 L212.5 195.3 L214.5 196.2 L216.5 197.1 L218.5 198.0 L220.6 198.8 L222.6 199.6 L224.6 200.4 L226.6 201.2 L228.6 202.0 L230.6 202.7 L232.6 203.5 L234.6 204.2 L236.6 204.9 L238.6 205.6 L240.6 206.3 L242.6 206.9 L244.6 207.6 L246.6 208.3 L248.6 208.9 L250.6 209.5 L252.6 210.1 L254.6 210.8 L256.7 211.3 L258.7 211.9 L260.7 212.5 L262.7 213.1 L264.7 213.6 L266.7 214.2 L268.7 214.7 L270.7 215.3 L272.7 215.8 L274.7 216.3 L276.7 216.8 L278.7 217.3 L280.7 217.8 L282.7 218.3 L284.7 218.8 L286.7 219.2 L288.7 219.7 L290.7 220.2 L292.7 220.6 L294.7 221.1 L296.7 221.5 L298.7 221.9 L300.7 222.4 L302.6 222.8 L304.6 223.2 L306.6 223.6 L308.6 224.0 L310.6 224.4 L312.6 224.8 L314.6 225.2 L316.6 225.6 L318.6 226.0 L320.6 226.3 L322.6 226.7 L324.6 227.1 L326.6 227.4 L328.6 227.8 L330.6 228.1 L332.6 228.5 L334.6 228.8 L336.6 229.2 L338.6 229.5 L340.6 229.8 L342.6 230.2 L344.6 230.5 L346.5 230.8 L348.5 231.1 L350.5 231.4 L352.5 231.7 L354.5 232.1 L356.5 232.4 L358.5 232.7 L360.5 233.0 L362.6 233.3 L364.6 233.6 L366.7 233.9 L368.8 234.2 L371.0 234.5 L373.1 234.8 L375.3 235.1 L377.5 235.4 L379.8 235.7 L382.0 236.0 L384.3 236.3 L386.6 236.6 L389.0 236.9 L391.3 237.2 L393.7 237.5 L396.2 237.8 L398.6 238.1 L401.1 238.4 L403.6 238.7 L406.2 239.0 L408.8 239.3 L411.4 239.6 L414.0 239.9" fill="none" stroke="#000" stroke-width="1.3"/>
<line x1="267.3" y1="0" x2="267.3" y2="257" stroke="#000" stroke-width="1.2" stroke-dasharray="4.5 3.6"/>
</g>
<line x1="53.1" y1="0" x2="53.1" y2="257.7" stroke="#7a7a7a" stroke-width="1.8"/>
<line x1="53.3" y1="0.5" x2="408.2" y2="0.5" stroke="#555" stroke-width="1"/>
<line x1="407.7" y1="0" x2="407.7" y2="257.7" stroke="#000" stroke-width="1.2"/>
<line x1="52.2" y1="257.1" x2="408.4" y2="257.1" stroke="#000" stroke-width="1.5"/>
<line x1="57.4" y1="0" x2="57.4" y2="4.5" stroke="#333" stroke-width="0.8"/>
<line x1="57.4" y1="257" x2="57.4" y2="253" stroke="#333" stroke-width="0.8"/>
<text transform="translate(59.9,274.4) scale(1.05,1)" font-size="16.7" text-anchor="middle">0</text>
<line x1="101.9" y1="0" x2="101.9" y2="4.5" stroke="#333" stroke-width="0.8"/>
<text transform="translate(104.4,274.4) scale(1.05,1)" font-size="16.7" text-anchor="middle">2</text>
<line x1="146.3" y1="0" x2="146.3" y2="4.5" stroke="#333" stroke-width="0.8"/>
<text transform="translate(148.9,274.4) scale(1.05,1)" font-size="16.7" text-anchor="middle">4</text>
<line x1="190.8" y1="0" x2="190.8" y2="4.5" stroke="#333" stroke-width="0.8"/>
<text transform="translate(193.5,274.4) scale(1.05,1)" font-size="16.7" text-anchor="middle">6</text>
<line x1="235.2" y1="0" x2="235.2" y2="4.5" stroke="#333" stroke-width="0.8"/>
<text transform="translate(238.0,274.4) scale(1.05,1)" font-size="16.7" text-anchor="middle">8</text>
<line x1="279.7" y1="0" x2="279.7" y2="4.5" stroke="#333" stroke-width="0.8"/>
<text transform="translate(282.5,274.4) scale(1.05,1)" font-size="16.7" text-anchor="middle">10</text>
<line x1="324.1" y1="0" x2="324.1" y2="4.5" stroke="#333" stroke-width="0.8"/>
<text transform="translate(327.0,274.4) scale(1.05,1)" font-size="16.7" text-anchor="middle">12</text>
<line x1="368.6" y1="0" x2="368.6" y2="4.5" stroke="#333" stroke-width="0.8"/>
<text transform="translate(371.5,274.4) scale(1.05,1)" font-size="16.7" text-anchor="middle">14</text>
<line x1="53.8" y1="255.4" x2="58" y2="255.4" stroke="#333" stroke-width="0.8"/>
<text transform="translate(49.3,261.2) scale(1.05,1)" font-size="16.7" text-anchor="end">20</text>
<line x1="53.8" y1="209.6" x2="58" y2="209.6" stroke="#333" stroke-width="0.8"/>
<line x1="407.7" y1="209.6" x2="403.2" y2="209.6" stroke="#333" stroke-width="0.8"/>
<text transform="translate(49.3,215.4) scale(1.05,1)" font-size="16.7" text-anchor="end">40</text>
<line x1="53.8" y1="163.8" x2="58" y2="163.8" stroke="#333" stroke-width="0.8"/>
<line x1="407.7" y1="163.8" x2="403.2" y2="163.8" stroke="#333" stroke-width="0.8"/>
<text transform="translate(49.3,169.6) scale(1.05,1)" font-size="16.7" text-anchor="end">60</text>
<line x1="53.8" y1="118.0" x2="58" y2="118.0" stroke="#333" stroke-width="0.8"/>
<line x1="407.7" y1="118.0" x2="403.2" y2="118.0" stroke="#333" stroke-width="0.8"/>
<text transform="translate(49.3,123.8) scale(1.05,1)" font-size="16.7" text-anchor="end">80</text>
<line x1="53.8" y1="72.2" x2="58" y2="72.2" stroke="#333" stroke-width="0.8"/>
<line x1="407.7" y1="72.2" x2="403.2" y2="72.2" stroke="#333" stroke-width="0.8"/>
<text transform="translate(49.3,78.0) scale(1.05,1)" font-size="16.7" text-anchor="end">100</text>
<line x1="53.8" y1="26.4" x2="58" y2="26.4" stroke="#333" stroke-width="0.8"/>
<line x1="407.7" y1="26.4" x2="403.2" y2="26.4" stroke="#333" stroke-width="0.8"/>
<text transform="translate(49.3,32.2) scale(1.05,1)" font-size="16.7" text-anchor="end">120</text>
<text x="130.3" y="291.8" font-size="16.6" textLength="199.6" lengthAdjust="spacingAndGlyphs">angular velocity, rad/day</text>
<text transform="translate(12.8,129) rotate(-90) scale(1.09,1)" font-size="16.6" text-anchor="middle">q, km</text>
<text class="dj" x="351.3" y="34.6" font-size="24">(a)</text>
<text class="dj" transform="translate(102.6,15.6) scale(1.04,1)" font-size="17.7">2:3</text>
<text class="dj" transform="translate(116.3,33.1) scale(1.04,1)" font-size="17.7">1:2</text>
<text class="dj" transform="translate(53.3,181.2) scale(1.04,1)" font-size="17.7">5:6</text>
<text class="dj" transform="translate(64.3,207.6) scale(1.04,1)" font-size="17.7">4:3</text>
<text class="dj" transform="translate(73.3,234.2) scale(1.04,1)" font-size="17.7">2:1</text>
<line x1="103.5" y1="13.0" x2="89.1" y2="14.1" stroke="#000" stroke-width="1"/><polygon points="83.6,14.5 89.9,11.7 90.3,16.3" fill="#000"/>
<line x1="116.2" y1="25.3" x2="100.2" y2="29.9" stroke="#000" stroke-width="1"/><polygon points="94.9,31.4 100.5,27.4 101.8,31.8" fill="#000"/>
<line x1="69.0" y1="163.6" x2="95.5" y2="124.6" stroke="#000" stroke-width="1"/><polygon points="98.6,120.0 96.9,126.7 93.0,124.1" fill="#000"/>
<line x1="79.4" y1="190.9" x2="89.4" y2="157.6" stroke="#000" stroke-width="1"/><polygon points="91.0,152.3 91.3,159.2 86.9,157.9" fill="#000"/>
<line x1="87.9" y1="217.3" x2="95.8" y2="207.3" stroke="#000" stroke-width="1"/><polygon points="99.2,203.0 97.0,209.5 93.4,206.7" fill="#000"/>
</g>
<g transform="translate(421,0)">
<g clip-path="url(#pa)">
<path d="M57.4 258.0 L58.4 256.2 L60.4 253.5 L61.5 250.0 L61.2 240.0 L60.3 220.0 L59.5 205.0 L58.8 189.4 L59.9 189.4 L60.9 207.0 L62.8 220.4 L65.9 229.9 L70.6 236.7 L77.5 242.7 L90.4 248.8 L103.9 252.8 L117.4 255.5 L133.0 258.0Z" fill="url(#bl)"/>
<clipPath id="cbb"><path d="M81.2 5.0 L82.8 5.0 L83.2 8.0 L83.5 11.0 L83.9 14.0 L84.3 17.0 L84.7 20.0 L85.0 22.0 L93.0 24.0 L93.3 24.0 L93.9 27.0 L94.5 30.0 L95.1 33.0 L95.8 36.0 L96.4 39.0 L97.1 42.0 L97.9 45.0 L98.6 48.0 L99.3 51.0 L100.1 54.0 L100.9 57.0 L101.8 60.0 L102.6 63.0 L103.5 66.0 L104.4 69.0 L105.4 72.0 L106.3 75.0 L107.3 78.0 L108.0 80.0 L111.3 88.0 L114.2 95.0 L121.2 110.0 L127.0 120.0 L133.0 127.0 L136.9 131.0 L140.2 135.2 L147.7 144.2 L155.3 151.8 L162.9 158.6 L170.5 165.0 L177.0 168.7 L182.9 172.0 L188.0 174.9 L193.5 177.7 L199.0 180.2 L205.6 183.0 L215.2 186.8 L225.0 190.5 L235.4 194.0 L245.0 197.5 L255.6 200.4 L265.0 202.6 L275.0 204.4 L290.0 207.0 L305.0 209.0 L325.0 211.0 L345.0 212.5 L370.0 215.0 L391.0 217.0 L416.0 219.5 L416.0 260.0 L138.0 260.0 L135.4 255.6 L129.3 250.5 L123.3 243.4 L117.2 235.4 L113.2 226.3 L107.0 216.0 L101.0 206.0 L96.5 198.0 L92.0 189.0 L88.5 181.0 L86.0 176.0 L84.7 172.0 L84.3 168.0 L95.3 168.0 L92.7 160.0 L90.7 152.0 L89.3 145.0 L88.7 140.0 L90.8 100.0 L91.5 100.0 L90.7 97.0 L90.0 94.0 L89.3 91.0 L88.7 88.0 L88.0 85.0 L87.4 82.0 L86.8 79.0 L86.3 76.0 L85.7 73.0 L85.2 70.0 L84.7 67.0 L84.2 64.0 L83.7 61.0 L83.2 58.0 L82.8 55.0 L82.3 52.0 L82.6 46.0 L82.8 40.0 L82.3 30.0 L81.4 18.0Z"/></clipPath>
<path d="M81.2 5.0 L82.8 5.0 L83.2 8.0 L83.5 11.0 L83.9 14.0 L84.3 17.0 L84.7 20.0 L85.0 22.0 L93.0 24.0 L93.3 24.0 L93.9 27.0 L94.5 30.0 L95.1 33.0 L95.8 36.0 L96.4 39.0 L97.1 42.0 L97.9 45.0 L98.6 48.0 L99.3 51.0 L100.1 54.0 L100.9 57.0 L101.8 60.0 L102.6 63.0 L103.5 66.0 L104.4 69.0 L105.4 72.0 L106.3 75.0 L107.3 78.0 L108.0 80.0 L111.3 88.0 L114.2 95.0 L121.2 110.0 L127.0 120.0 L133.0 127.0 L136.9 131.0 L140.2 135.2 L147.7 144.2 L155.3 151.8 L162.9 158.6 L170.5 165.0 L177.0 168.7 L182.9 172.0 L188.0 174.9 L193.5 177.7 L199.0 180.2 L205.6 183.0 L215.2 186.8 L225.0 190.5 L235.4 194.0 L245.0 197.5 L255.6 200.4 L265.0 202.6 L275.0 204.4 L290.0 207.0 L305.0 209.0 L325.0 211.0 L345.0 212.5 L370.0 215.0 L391.0 217.0 L416.0 219.5 L416.0 260.0 L138.0 260.0 L135.4 255.6 L129.3 250.5 L123.3 243.4 L117.2 235.4 L113.2 226.3 L107.0 216.0 L101.0 206.0 L96.5 198.0 L92.0 189.0 L88.5 181.0 L86.0 176.0 L84.7 172.0 L84.3 168.0 L95.3 168.0 L92.7 160.0 L90.7 152.0 L89.3 145.0 L88.7 140.0 L90.8 100.0 L91.5 100.0 L90.7 97.0 L90.0 94.0 L89.3 91.0 L88.7 88.0 L88.0 85.0 L87.4 82.0 L86.8 79.0 L86.3 76.0 L85.7 73.0 L85.2 70.0 L84.7 67.0 L84.2 64.0 L83.7 61.0 L83.2 58.0 L82.8 55.0 L82.3 52.0 L82.6 46.0 L82.8 40.0 L82.3 30.0 L81.4 18.0Z" fill="url(#bl)"/>
<g clip-path="url(#cbb)"><g filter="url(#spk)">
<rect x="40" y="-10" width="390" height="280" fill="#000"/>
<path d="M80.0 140.0 L92.0 112.0 L96.5 112.0 L99.2 116.0 L107.0 122.0 L111.2 128.0 L115.2 135.0 L120.9 145.0 L127.6 155.0 L133.8 163.0 L140.0 169.8 L150.0 179.3 L160.0 187.1 L170.0 193.8 L185.0 202.1 L200.0 209.0 L215.0 214.7 L224.0 217.8 L221.0 221.0 L227.0 229.0 L233.0 237.0 L240.0 247.0 L246.0 256.0 L249.0 262.0 L240.0 262.0 L225.0 258.5 L200.0 254.0 L175.0 250.5 L163.0 248.5 L150.0 243.3 L140.0 238.7 L130.0 233.1 L120.0 225.9 L110.0 216.6 L100.0 203.7 L92.0 172.0 L85.0 155.0Z" fill="rgb(140,0,0)"/>
<path d="M95.0 125.0 L100.2 134.0 L106.3 146.2 L113.3 160.3 L116.4 168.4 L118.5 180.0 L119.6 190.0 L120.0 200.0 L128.0 200.0 L138.5 190.0 L128.2 180.0 L118.4 168.0 L113.1 160.0 L105.4 146.0 L100.1 134.0 L96.7 125.0 L94.3 118.0Z" fill="rgb(184,0,0)"/>
<path d="M95.0 125.0 L100.2 134.0 L106.3 146.2 L113.3 160.3 L115.5 166.0 L117.0 166.0 L113.1 160.0 L105.4 146.0 L100.1 134.0 L96.7 125.0 L94.3 118.0Z" fill="rgb(230,0,0)"/>
<path d="M93.9 108.0 L93.8 118.0 L98.0 130.0 L103.0 142.0 L106.9 150.0 L126.1 150.0 L121.1 142.0 L114.7 130.0 L109.3 118.0 L105.5 108.0Z" fill="rgb(204,0,0)"/>
<path d="M165.0 190.6 L178.0 198.5 L190.0 204.6 L190.0 253.0 L178.0 251.0 L165.0 249.0Z" fill="rgb(120,0,0)"/>
<path d="M188.0 203.6 L200.0 209.0 L215.0 214.7 L224.0 217.8 L221.0 221.0 L227.0 229.0 L233.0 237.0 L240.0 247.0 L246.0 256.0 L249.0 262.0 L240.0 262.0 L225.0 258.5 L200.0 254.0 L188.0 252.3Z" fill="rgb(97,0,0)"/>
<path d="M222.0 218.1 L235.0 222.1 L250.0 226.2 L264.0 229.5 L258.0 235.2 L245.0 232.4 L232.0 229.3 L224.0 226.0Z" fill="rgb(69,0,0)"/>
<path d="M140.0 222.0 L150.0 227.3 L175.0 230.0 L200.0 232.4 L220.0 238.0 L236.0 246.0 L236.0 250.0 L220.0 245.0 L200.0 240.8 L175.0 239.0 L150.0 235.8 L140.0 230.0Z" fill="rgb(102,0,0)"/>
<path d="M133.8 163.0 L145.0 169.5 L152.6 173.3 L160.2 177.9 L167.7 181.7 L175.3 183.9 L182.9 186.2 L190.5 188.5 L198.0 190.8 L205.6 193.0 L215.0 195.5 L224.3 197.3 L240.0 199.0 L252.0 200.3 L267.0 203.0 L267.0 229.2 L256.0 226.7 L245.0 223.9 L230.0 219.6 L215.0 214.7 L200.0 209.0 L185.0 202.1 L170.0 193.8 L160.0 187.1 L150.0 179.3 L140.0 169.8Z" fill="rgb(38,0,0)"/>
<path d="M225.0 190.5 L235.4 194.0 L245.0 197.5 L255.6 200.4 L265.0 202.6 L275.0 204.4 L290.0 207.0 L305.0 209.0 L325.0 211.0 L345.0 212.5 L370.0 215.0 L391.0 217.0 L416.0 219.5 L416.0 242.0 L407.0 239.5 L350.0 231.4 L325.0 231.0 L300.0 231.0 L285.0 231.0 L267.0 229.2 L256.0 226.7 L245.0 223.9 L230.0 219.6 L225.0 199.0Z" fill="rgb(128,0,0)"/>
<path d="M285.0 218.8 L300.0 222.2 L325.0 227.1 L350.0 231.4 L380.0 235.7 L416.0 240.1 L416.0 244.6 L380.0 240.2 L350.0 235.9 L325.0 231.6 L300.0 226.7 L285.0 223.3Z" fill="rgb(76,0,0)"/>
<path d="M200.0 209.5 L215.0 215.2 L230.0 220.1 L245.0 224.4 L256.0 227.2 L267.0 229.7 L285.0 233.4 L300.0 236.1 L320.0 239.3 L335.0 241.5 L335.0 242.5 L320.0 241.8 L300.0 240.1 L285.0 237.9 L267.0 234.7 L256.0 232.7 L245.0 229.9 L230.0 225.6 L215.0 220.7 L200.0 215.0Z" fill="rgb(107,0,0)"/>
<path d="M225.0 190.5 L235.4 194.0 L245.0 197.5 L255.6 200.4 L265.0 202.6 L275.0 204.4 L290.0 207.0 L305.0 209.0 L325.0 211.0 L345.0 212.5 L370.0 215.0 L391.0 217.0 L416.0 219.5 L416.0 231.0 L416.0 229.5 L391.0 227.0 L370.0 225.0 L345.0 222.5 L325.0 221.0 L305.0 219.0 L290.0 217.0 L275.0 214.4 L265.0 212.6 L255.6 210.4 L245.0 207.5 L235.4 204.0 L225.0 200.5Z" fill="rgb(168,0,0)"/>
<path d="M225.0 190.5 L235.4 194.0 L245.0 197.5 L255.6 200.4 L265.0 202.6 L275.0 204.4 L290.0 207.0 L305.0 209.0 L325.0 211.0 L345.0 212.5 L370.0 215.0 L391.0 217.0 L416.0 219.5 L416.0 225.0 L416.0 223.5 L391.0 221.0 L370.0 219.0 L345.0 216.5 L325.0 215.0 L305.0 213.0 L290.0 211.0 L275.0 208.4 L265.0 206.6 L255.6 204.4 L245.0 201.5 L235.4 198.0 L225.0 194.5Z" fill="rgb(217,0,0)"/>
<path d="M87.2 -3.0 L88.8 -3.0 L89.2 0.0 L89.5 3.0 L89.9 6.0 L90.3 9.0 L90.7 12.0 L91.0 14.0 L99.0 16.0 L99.3 16.0 L99.9 19.0 L100.5 22.0 L101.1 25.0 L101.8 28.0 L102.4 31.0 L103.1 34.0 L103.9 37.0 L104.6 40.0 L105.3 43.0 L106.1 46.0 L106.9 49.0 L107.8 52.0 L108.6 55.0 L109.5 58.0 L110.4 61.0 L111.4 64.0 L112.3 67.0 L113.3 70.0 L114.0 72.0 L117.3 80.0 L120.2 87.0 L127.2 102.0 L133.0 112.0 L139.0 119.0 L142.9 123.0 L146.2 127.2 L153.7 136.2 L161.3 143.8 L168.9 150.6 L176.5 157.0 L183.0 160.7 L188.9 164.0 L194.0 166.9 L199.5 169.7 L205.0 172.2 L211.6 175.0 L221.2 178.8 L231.0 182.5 L241.4 186.0 L251.0 189.5 L261.6 192.4 L262.0 200.5 L252.0 200.3 L240.0 199.0 L224.3 197.3 L215.0 195.5 L205.6 193.0 L198.0 190.8 L190.5 188.5 L182.9 186.2 L175.3 183.9 L167.7 181.7 L160.2 177.9 L152.6 173.3 L145.0 169.5 L133.8 163.0 L127.6 155.0 L120.9 145.0 L115.2 135.0 L111.2 128.0 L107.0 122.0 L99.2 116.0 L96.5 112.0 L95.8 112.0 L85.8 100.0 L85.8 100.0 L85.0 97.0 L84.3 94.0 L83.6 91.0 L83.0 88.0 L82.3 85.0 L81.7 82.0 L81.1 79.0 L80.6 76.0 L80.0 73.0 L79.5 70.0 L79.0 67.0 L78.5 64.0 L78.0 61.0 L77.5 58.0 L77.1 55.0 L76.6 52.0 L76.2 49.0 L75.8 46.0 L75.4 43.0 L75.0 40.0 L71.6 0.0Z" fill="rgb(255,0,0)"/>
</g></g>
<path d="M81.2 5.0 L82.8 5.0 L83.2 8.0 L83.5 11.0 L83.9 14.0 L84.3 17.0 L84.7 20.0 L85.0 22.0 L93.0 24.0 L93.3 24.0 L93.9 27.0 L94.5 30.0 L95.1 33.0 L95.8 36.0 L96.4 39.0 L97.1 42.0 L97.9 45.0 L98.6 48.0 L99.3 51.0 L100.1 54.0 L100.9 57.0 L101.8 60.0 L102.6 63.0 L103.5 66.0 L104.4 69.0 L105.4 72.0 L106.3 75.0 L107.3 78.0 L108.0 80.0 L111.3 88.0 L114.2 95.0 L121.2 110.0 L127.0 120.0 L133.0 127.0 L136.9 131.0 L140.2 135.2 L147.7 144.2 L155.3 151.8 L162.9 158.6 L170.5 165.0 L177.0 168.7 L182.9 172.0 L188.0 174.9 L193.5 177.7 L199.0 180.2 L205.6 183.0 L215.2 186.8 L225.0 190.5 L235.4 194.0 L245.0 197.5 L255.6 200.4 L265.0 202.6 L275.0 204.4 L290.0 207.0 L305.0 209.0 L325.0 211.0 L345.0 212.5 L370.0 215.0 L391.0 217.0 L416.0 219.5" fill="none" stroke="#ff0000" stroke-width="1.1"/>
<path d="M85.5 168.0 L86.4 171.0 L87.4 174.0 L88.5 177.0 L89.6 180.0 L90.8 183.0 L92.0 186.0 L93.4 189.0 L94.8 192.0 L96.3 195.0 L98.0 198.0 L99.8 201.0 L101.7 204.0 L103.8 207.0 L106.0 210.0 L108.5 213.0 L111.1 216.0 L114.0 219.0 L117.1 221.9 L120.2 224.6 L123.3 227.1 L124.0 227.6 L129.8 227.6 L124.0 222.0 L117.0 215.0 L110.0 205.0 L104.8 195.0 L102.9 185.0 L96.6 170.0 L95.3 168.0 L85.5 168.0Z" fill="#fff"/>
<path d="M80.4 100.0 L84.1 120.0 L89.1 140.0 L94.6 155.0 L99.3 165.0 L107.1 180.0 L113.3 188.0 L117.5 192.8 L120.5 196.0 L122.3 197.2 L122.2 193.0 L121.4 189.4 L120.5 179.3 L119.3 169.2 L115.6 160.4 L111.4 155.1 L106.4 146.2 L100.2 134.0 L98.4 125.0 L90.6 100.0Z" fill="#fff"/>
<path d="M120.6 189.3 L121.4 186.9 L126.3 187.6 L131.3 191.7 L136.5 198.3 L141.5 205.9 L145.8 213.4 L148.1 218.8 L144.1 219.6 L139.8 216.9 L133.9 211.1 L128.0 204.4 L123.7 197.8 L120.8 191.6Z" fill="#fff"/>
<path d="M82.9 4.0 L85.2 22.0 L88.8 45.0 L91.2 56.0 L94.3 67.0 L97.7 78.0 L101.6 90.0 L105.0 100.0 L108.0 108.0 L112.0 116.0 L118.0 124.0 L118.6 122.0 L118.2 116.0 L115.3 108.0 L110.8 100.0 L105.6 90.0 L102.2 78.0 L99.9 67.0 L97.9 56.0 L96.3 45.0 L93.7 30.0 L92.3 22.0Z" fill="#fff"/>
<path d="M112.5 226.0 L131.0 243.5 L117.5 236.0Z" fill="#fff"/>
<path d="M122.0 243.0 L139.0 255.0 L127.5 250.0Z" fill="#fff"/>
<path d="M105.5 214.5 L118.0 225.0 L108.5 220.0Z" fill="#fff"/>
<path d="M100.5 205.5 L109.0 212.5 L103.0 210.0Z" fill="#fff"/>
<path d="M116.5 235.0 L125.0 242.0 L119.0 240.0Z" fill="#fff"/>
<path d="M131.0 252.0 L144.0 258.0 L134.0 256.0Z" fill="#fff"/>
<path d="M94.9 62.0 L95.6 65.0 L96.4 68.0 L97.2 71.0 L98.0 74.0 L98.8 77.0 L99.7 80.0 L100.6 83.0 L101.5 86.0 L102.4 89.0 L103.4 92.0 L104.5 95.0 L105.5 98.0 L106.6 101.0 L107.8 104.0 L108.9 107.0 L110.2 110.0 L111.5 113.0 L112.8 116.0 L114.2 119.0 L115.1 121.0" fill="none" stroke="#ff0000" stroke-width="0.9"/>
<path d="M103.3 84.0 L104.2 87.0 L105.2 90.0 L106.3 93.0 L107.4 96.0 L108.5 99.0 L109.7 102.0 L110.9 105.0 L112.2 108.0 L113.5 111.0 L114.9 114.0 L116.3 117.0 L117.8 120.0 L119.3 123.0" fill="none" stroke="#ff0000" stroke-width="1.0"/>
<path d="M109.8 96.0 L110.9 99.0 L112.2 102.0 L113.4 105.0 L114.8 108.0 L116.1 111.0 L117.6 114.0 L119.1 117.0 L120.6 120.0 L121.7 122.0" fill="none" stroke="#ff0000" stroke-width="0.9"/>
<path d="M107.7 100.0 L108.9 103.0 L110.1 106.0 L111.3 109.0 L112.6 112.0 L114.0 115.0 L115.4 118.0 L116.9 121.0 L117.9 123.0" fill="none" stroke="#ff0000" stroke-width="0.7"/>
<path d="M100.4 88.0 L101.4 91.0 L102.4 94.0 L103.4 97.0 L104.4 100.0 L105.5 103.0 L106.6 106.0 L107.8 109.0 L109.0 112.0 L110.3 115.0 L111.6 118.0" fill="none" stroke="#ff0000" stroke-width="0.7"/>
<path d="M91.4 24.0 L92.0 27.0 L92.6 30.0 L93.2 33.0 L93.9 36.0 L94.5 39.0 L95.2 42.0 L96.0 45.0 L96.7 48.0 L97.2 50.0" fill="none" stroke="#ff0000" stroke-width="1.1" stroke-dasharray="1 2.2"/>
<path d="M80.4 8.0 L80.7 11.0 L81.1 14.0 L81.5 17.0 L81.9 20.0 L82.3 23.0 L82.7 26.0 L83.2 29.0 L83.6 32.0 L84.1 35.0 L84.5 38.0 L85.0 41.0 L85.5 44.0 L86.0 47.0 L86.6 50.0 L87.1 53.0 L87.7 56.0 L88.3 59.0 L88.9 62.0 L89.5 65.0 L90.1 68.0 L90.6 70.0" fill="none" stroke="#fff" stroke-width="1.0" stroke-dasharray="0.9 1.5"/>
<path d="M82.4 36.0 L82.8 39.0 L83.2 42.0 L83.5 45.0 L84.0 48.0 L84.4 51.0 L84.8 54.0 L85.3 57.0 L85.7 60.0 L86.2 63.0 L86.7 66.0 L87.2 69.0 L87.7 72.0 L88.3 75.0 L88.8 78.0 L89.4 81.0 L90.0 84.0 L90.7 87.0 L91.3 90.0 L92.0 93.0 L92.4 95.0" fill="none" stroke="#fff" stroke-width="1.0" stroke-dasharray="0.8 1.9"/>
<path d="M85.0 50.0 L85.5 53.0 L86.0 56.0 L86.6 59.0 L87.1 62.0 L87.7 65.0 L88.3 68.0 L88.9 71.0 L89.6 74.0 L90.2 77.0 L90.9 80.0 L91.6 83.0 L92.4 86.0 L93.1 89.0 L93.9 92.0 L94.7 95.0 L95.6 98.0 L96.2 100.0" fill="none" stroke="#fff" stroke-width="0.9" stroke-dasharray="0.8 2.3"/>
<path d="M90.0 48.0 L90.6 51.0 L91.1 54.0 L91.7 57.0 L92.3 60.0 L92.9 63.0 L93.5 66.0 L94.2 69.0 L94.8 72.0 L95.5 75.0 L96.3 78.0 L97.0 81.0 L97.8 84.0 L98.6 87.0 L99.4 90.0 L100.0 92.0" fill="none" stroke="#ff0000" stroke-width="1.2" stroke-dasharray="1 1.3"/>
<path d="M85.3 78.0 L85.9 81.0 L86.5 84.0 L87.2 87.0 L87.8 90.0 L88.5 93.0 L89.2 96.0 L89.9 99.0 L90.7 102.0 L91.4 105.0 L92.3 108.0 L93.1 111.0 L93.4 112.0" fill="none" stroke="#ff0000" stroke-width="1.1" stroke-dasharray="1 2.2"/>
<path d="M78.9 85.0 L79.4 88.0 L79.8 91.0 L80.2 94.0 L80.7 97.0 L81.2 100.0 L81.7 103.0 L82.2 106.0 L82.7 109.0 L83.3 112.0 L83.9 115.0 L84.5 118.0 L85.1 121.0 L85.7 124.0 L86.4 127.0 L87.1 130.0 L87.9 133.0 L88.7 136.0 L89.5 139.0 L90.3 142.0 L91.2 145.0 L92.2 148.0 L92.8 150.0" fill="none" stroke="#ff0000" stroke-width="1.1" stroke-dasharray="1 2"/>
<path d="M173.0 151.0 L184.0 158.8 L195.0 165.6 L215.0 174.9 L235.0 184.0 L255.0 191.3 L265.0 195.2 L275.0 197.8 L290.0 201.0 L305.0 204.0 L325.0 207.5 L345.0 210.5 L365.0 213.5 L365.0 215.0 L345.0 213.0 L325.0 211.0 L305.0 208.3 L290.0 205.5 L275.0 202.0 L265.0 199.3 L255.0 194.2 L235.0 186.6 L215.0 177.4 L195.0 167.9 L184.0 160.4 L173.0 151.7Z" fill="#ff0000"/>
<path d="M252.0 180.6 L265.0 186.1 L290.0 193.5 L315.0 199.9 L345.0 205.8 L375.0 211.1 L416.0 216.8 L416.0 219.3 L375.0 213.4 L345.0 208.0 L315.0 201.9 L290.0 194.8 L265.0 187.2 L252.0 181.2Z" fill="#ff0000"/>
<path d="M81.2 5.0 L82.8 5.0 L83.2 8.0 L83.5 11.0 L83.9 14.0 L84.3 17.0 L84.7 20.0 L85.0 22.0 L93.0 24.0 L93.3 24.0 L93.9 27.0 L94.5 30.0 L95.1 33.0 L95.8 36.0 L96.4 39.0 L97.1 42.0 L97.9 45.0 L98.6 48.0 L99.3 51.0 L100.1 54.0 L100.9 57.0 L101.8 60.0 L102.6 63.0 L103.5 66.0 L104.4 69.0 L105.4 72.0 L106.3 75.0 L107.3 78.0 L108.0 80.0 L111.3 88.0 L114.2 95.0 L121.2 110.0 L127.0 120.0 L133.0 127.0 L136.9 131.0 L140.2 135.2 L147.7 144.2 L155.3 151.8 L162.9 158.6 L170.5 165.0 L177.0 168.7 L182.9 172.0 L188.0 174.9 L193.5 177.7 L199.0 180.2 L205.6 183.0 L215.2 186.8 L225.0 190.5 L235.4 194.0 L245.0 197.5 L255.6 200.4 L265.0 202.6 L275.0 204.4 L290.0 207.0 L305.0 209.0 L325.0 211.0 L345.0 212.5 L370.0 215.0 L391.0 217.0 L416.0 219.5 L416.0 260.0 L138.0 260.0 L135.4 255.6 L129.3 250.5 L123.3 243.4 L117.2 235.4 L113.2 226.3 L107.0 216.0 L101.0 206.0 L96.5 198.0 L92.0 189.0 L88.5 181.0 L86.0 176.0 L84.7 172.0 L84.3 168.0 L95.3 168.0 L92.7 160.0 L90.7 152.0 L89.3 145.0 L88.7 140.0 L90.8 100.0 L91.5 100.0 L90.7 97.0 L90.0 94.0 L89.3 91.0 L88.7 88.0 L88.0 85.0 L87.4 82.0 L86.8 79.0 L86.3 76.0 L85.7 73.0 L85.2 70.0 L84.7 67.0 L84.2 64.0 L83.7 61.0 L83.2 58.0 L82.8 55.0 L82.3 52.0 L82.6 46.0 L82.8 40.0 L82.3 30.0 L81.4 18.0Z" fill="url(#gr)"/>
<path d="M57.4 258.0 L58.4 256.2 L60.4 253.5 L61.5 250.0 L61.2 240.0 L60.3 220.0 L59.5 205.0 L58.8 189.4 L59.9 189.4 L60.9 207.0 L62.8 220.4 L65.9 229.9 L70.6 236.7 L77.5 242.7 L90.4 248.8 L103.9 252.8 L117.4 255.5 L133.0 258.0Z" fill="url(#gr)"/>
<path d="M65.2 -3.0 L65.3 -1.0 L65.3 1.0 L65.4 3.0 L65.5 5.0 L65.6 7.0 L65.7 9.0 L65.8 11.0 L65.8 13.0 L65.9 15.0 L66.0 17.0 L66.1 19.0 L66.2 21.0 L66.3 23.0 L66.4 25.0 L66.5 27.0 L66.6 29.0 L66.7 31.0 L66.8 33.0 L66.9 35.0 L67.0 37.0 L67.1 39.0 L67.2 41.0 L67.4 43.0 L67.5 45.0 L67.6 47.0 L67.7 49.0 L67.8 51.0 L68.0 53.0 L68.1 55.0 L68.2 57.0 L68.4 59.0 L68.5 61.0 L68.6 63.0 L68.8 65.0 L68.9 67.0 L69.1 69.0 L69.2 71.0 L69.4 73.0 L69.5 75.0 L69.7 77.0 L69.9 79.0 L70.0 81.0 L70.2 83.0 L70.4 85.0 L70.6 87.0 L70.8 89.0 L71.0 91.0 L71.2 93.0 L71.4 95.0 L71.6 97.0 L71.8 99.0 L72.0 101.0 L72.2 103.0 L72.4 105.0 L72.7 107.0 L72.9 109.0 L73.2 111.0 L73.4 113.0 L73.7 115.0 L73.9 117.0 L74.2 119.0 L74.5 121.0 L74.8 123.0 L75.1 125.0 L75.4 127.0 L75.7 129.0 L76.0 131.0 L76.3 133.0 L76.7 135.0 L77.0 137.0 L77.4 139.0 L77.8 141.0 L78.2 143.0 L78.6 145.0 L79.0 147.0 L79.4 149.0 L79.8 151.0 L80.3 153.0 L80.8 155.0 L81.3 157.0 L81.8 159.0 L82.3 161.0 L82.8 163.0 L83.4 165.0 L84.0 167.0 L84.6 169.0 L85.2 171.0 L85.9 173.0 L86.5 175.0 L87.3 177.0 L88.0 179.0 L88.8 181.0 L89.6 183.0 L90.4 185.0 L91.3 187.0 L92.2 189.0 L93.1 191.0 L94.1 193.0 L95.1 195.0 L96.2 197.0 L97.4 199.0 L98.6 201.0 L99.9 203.0 L101.2 205.0 L102.6 207.0 L104.1 209.0 L105.6 211.0 L107.3 213.0 L109.0 215.0 L110.9 217.0 L112.8 219.0 L114.9 221.0 L116.9 222.8 L119.0 224.6 L121.0 226.2 L123.0 227.8 L125.1 229.2 L127.1 230.7 L129.1 232.0 L131.2 233.3 L133.2 234.5 L135.2 235.7 L137.2 236.8 L139.2 237.8 L141.3 238.9 L143.3 239.8 L145.3 240.8 L147.3 241.7 L149.3 242.6 L151.4 243.4 L153.4 244.2 L155.4 245.0 L157.4 245.8 L159.4 246.5 L161.4 247.2 L163.4 247.9 L165.4 248.5 L167.4 249.2 L169.4 249.8 L171.4 250.4 L173.5 251.0 L175.5 251.6 L177.5 252.1 L179.5 252.7 L181.5 253.2 L183.5 253.7 L185.5 254.2 L187.5 254.7 L189.5 255.2 L191.5 255.6 L193.5 256.1 L195.5 256.5 L197.4 256.9 L199.4 257.3 L201.4 257.7 L203.4 258.1 L205.4 258.5 L207.4 258.9 L209.4 259.3 L211.4 259.6 L213.4 260.0 L215.4 260.3 L217.4 260.7 L219.4 261.0 L221.4 261.3 L223.3 261.7 L225.3 262.0 L225.5 262.0" fill="none" stroke="#000" stroke-width="1.3"/>
<path d="M69.5 -3.0 L69.6 -1.0 L69.7 1.0 L69.9 3.0 L70.0 5.0 L70.1 7.0 L70.2 9.0 L70.4 11.0 L70.5 13.0 L70.6 15.0 L70.8 17.0 L70.9 19.0 L71.0 21.0 L71.2 23.0 L71.3 25.0 L71.5 27.0 L71.6 29.0 L71.8 31.0 L71.9 33.0 L72.1 35.0 L72.3 37.0 L72.4 39.0 L72.6 41.0 L72.8 43.0 L72.9 45.0 L73.1 47.0 L73.3 49.0 L73.5 51.0 L73.7 53.0 L73.9 55.0 L74.1 57.0 L74.3 59.0 L74.5 61.0 L74.7 63.0 L74.9 65.0 L75.1 67.0 L75.3 69.0 L75.6 71.0 L75.8 73.0 L76.1 75.0 L76.3 77.0 L76.5 79.0 L76.8 81.0 L77.1 83.0 L77.3 85.0 L77.6 87.0 L77.9 89.0 L78.2 91.0 L78.5 93.0 L78.8 95.0 L79.1 97.0 L79.4 99.0 L79.7 101.0 L80.1 103.0 L80.4 105.0 L80.8 107.0 L81.1 109.0 L81.5 111.0 L81.9 113.0 L82.3 115.0 L82.7 117.0 L83.1 119.0 L83.5 121.0 L83.9 123.0 L84.4 125.0 L84.8 127.0 L85.3 129.0 L85.8 131.0 L86.3 133.0 L86.8 135.0 L87.3 137.0 L87.9 139.0 L88.5 141.0 L89.0 143.0 L89.6 145.0 L90.3 147.0 L90.9 149.0 L91.6 151.0 L92.3 153.0 L93.0 155.0 L93.7 157.0 L94.5 159.0 L95.3 161.0 L96.1 163.0 L96.9 165.0 L97.8 167.0 L98.7 169.0 L99.7 171.0 L100.7 173.0 L101.7 175.0 L102.8 177.0 L103.9 179.0 L105.0 181.0 L106.2 183.0 L107.5 185.0 L108.8 187.0 L110.2 189.0 L111.6 191.0 L113.1 193.0 L114.7 195.0 L116.4 197.0 L118.1 199.0 L119.9 201.0 L121.8 203.0 L123.9 205.0 L125.9 206.9 L127.9 208.7 L130.0 210.5 L132.0 212.1 L134.0 213.7 L136.1 215.2 L138.1 216.7 L140.1 218.1 L142.1 219.4 L144.2 220.7 L146.2 221.9 L148.2 223.1 L150.2 224.2 L152.3 225.3 L154.3 226.4 L156.3 227.4 L158.3 228.4 L160.3 229.3 L162.3 230.3 L164.3 231.2 L166.4 232.0 L168.4 232.9 L170.4 233.7 L172.4 234.5 L174.4 235.2 L176.4 236.0 L178.4 236.7 L180.4 237.4 L182.4 238.1 L184.4 238.7 L186.5 239.4 L188.5 240.0 L190.5 240.6 L192.5 241.2 L194.5 241.8 L196.5 242.4 L198.5 243.0 L200.5 243.5 L202.5 244.0 L204.5 244.5 L206.5 245.1 L208.5 245.6 L210.5 246.0 L212.5 246.5 L214.5 247.0 L216.5 247.4 L218.5 247.9 L220.5 248.3 L222.5 248.7 L224.5 249.2 L226.5 249.6 L228.5 250.0 L230.4 250.4 L232.4 250.7 L234.4 251.1 L236.4 251.5 L238.4 251.9 L240.4 252.2 L242.4 252.6 L244.4 252.9 L246.4 253.3 L248.4 253.6 L250.4 253.9 L252.4 254.2 L254.4 254.5 L256.3 254.9 L258.3 255.2 L260.3 255.5 L262.3 255.8 L264.4 256.1 L266.5 256.4 L268.6 256.7 L270.8 257.0 L273.0 257.3 L275.2 257.6 L277.5 257.9 L279.8 258.2 L282.1 258.5 L284.5 258.8 L287.0 259.1 L289.4 259.4 L292.0 259.7 L294.5 260.0 L297.2 260.3 L299.8 260.6 L302.5 260.9 L305.3 261.2 L308.1 261.5 L311.0 261.8 L313.3 262.0" fill="none" stroke="#000" stroke-width="1.3"/>
<path d="M76.5 -3.0 L76.6 -1.0 L76.8 1.0 L77.0 3.0 L77.2 5.0 L77.4 7.0 L77.6 9.0 L77.8 11.0 L78.0 13.0 L78.2 15.0 L78.4 17.0 L78.6 19.0 L78.8 21.0 L79.0 23.0 L79.2 25.0 L79.4 27.0 L79.7 29.0 L79.9 31.0 L80.1 33.0 L80.4 35.0 L80.6 37.0 L80.9 39.0 L81.1 41.0 L81.4 43.0 L81.6 45.0 L81.9 47.0 L82.2 49.0 L82.5 51.0 L82.8 53.0 L83.1 55.0 L83.4 57.0 L83.7 59.0 L84.0 61.0 L84.3 63.0 L84.6 65.0 L85.0 67.0 L85.3 69.0 L85.7 71.0 L86.0 73.0 L86.4 75.0 L86.8 77.0 L87.1 79.0 L87.5 81.0 L87.9 83.0 L88.3 85.0 L88.8 87.0 L89.2 89.0 L89.6 91.0 L90.1 93.0 L90.5 95.0 L91.0 97.0 L91.5 99.0 L92.0 101.0 L92.5 103.0 L93.0 105.0 L93.6 107.0 L94.1 109.0 L94.7 111.0 L95.3 113.0 L95.9 115.0 L96.5 117.0 L97.1 119.0 L97.8 121.0 L98.5 123.0 L99.2 125.0 L99.9 127.0 L100.6 129.0 L101.4 131.0 L102.2 133.0 L103.0 135.0 L103.8 137.0 L104.6 139.0 L105.5 141.0 L106.4 143.0 L107.4 145.0 L108.4 147.0 L109.4 149.0 L110.4 151.0 L111.5 153.0 L112.6 155.0 L113.8 157.0 L115.0 159.0 L116.2 161.0 L117.5 163.0 L118.8 165.0 L120.2 167.0 L121.7 169.0 L123.2 171.0 L124.7 173.0 L126.3 175.0 L128.0 177.0 L129.8 179.0 L131.6 181.0 L133.6 183.0 L135.6 185.0 L137.6 186.9 L139.6 188.8 L141.7 190.6 L143.7 192.3 L145.7 193.9 L147.7 195.5 L149.8 197.0 L151.8 198.5 L153.8 199.9 L155.8 201.3 L157.9 202.6 L159.9 203.8 L161.9 205.1 L163.9 206.3 L165.9 207.4 L168.0 208.5 L170.0 209.6 L172.0 210.7 L174.0 211.7 L176.0 212.7 L178.0 213.6 L180.0 214.6 L182.1 215.5 L184.1 216.4 L186.1 217.2 L188.1 218.1 L190.1 218.9 L192.1 219.7 L194.1 220.5 L196.1 221.2 L198.1 222.0 L200.1 222.7 L202.2 223.4 L204.2 224.1 L206.2 224.7 L208.2 225.4 L210.2 226.0 L212.2 226.7 L214.2 227.3 L216.2 227.9 L218.2 228.5 L220.2 229.1 L222.2 229.6 L224.2 230.2 L226.2 230.7 L228.2 231.3 L230.2 231.8 L232.2 232.3 L234.2 232.8 L236.2 233.3 L238.2 233.8 L240.2 234.3 L242.2 234.7 L244.2 235.2 L246.2 235.6 L248.2 236.1 L250.2 236.5 L252.2 236.9 L254.2 237.4 L256.2 237.8 L258.2 238.2 L260.2 238.6 L262.2 239.0 L264.2 239.4 L266.2 239.7 L268.2 240.1 L270.1 240.5 L272.1 240.9 L274.1 241.2 L276.1 241.6 L278.1 241.9 L280.1 242.3 L282.1 242.6 L284.1 242.9 L286.1 243.2 L288.1 243.6 L290.1 243.9 L292.1 244.2 L294.1 244.5 L296.0 244.8 L298.0 245.1 L300.1 245.4 L302.1 245.7 L304.2 246.0 L306.3 246.3 L308.4 246.6 L310.6 246.9 L312.8 247.2 L315.0 247.5 L317.3 247.8 L319.6 248.1 L321.9 248.4 L324.2 248.7 L326.6 249.0 L329.1 249.3 L331.5 249.6 L334.0 249.9 L336.6 250.2 L339.2 250.5 L341.8 250.8 L344.4 251.1 L347.1 251.4 L349.9 251.7 L352.7 252.0 L355.5 252.3 L358.4 252.6 L361.3 252.9 L364.3 253.2 L367.3 253.5 L370.4 253.8 L373.5 254.1 L376.6 254.4 L379.9 254.7 L383.1 255.0 L386.5 255.3 L389.9 255.6 L393.3 255.9 L396.8 256.2 L400.4 256.5 L404.0 256.8 L407.7 257.1 L411.4 257.4 L415.3 257.7" fill="none" stroke="#000" stroke-width="1.3"/>
<path d="M81.3 -3.0 L81.5 -1.0 L81.7 1.0 L82.0 3.0 L82.2 5.0 L82.4 7.0 L82.7 9.0 L82.9 11.0 L83.2 13.0 L83.4 15.0 L83.7 17.0 L84.0 19.0 L84.2 21.0 L84.5 23.0 L84.8 25.0 L85.1 27.0 L85.4 29.0 L85.7 31.0 L86.0 33.0 L86.3 35.0 L86.6 37.0 L86.9 39.0 L87.2 41.0 L87.6 43.0 L87.9 45.0 L88.2 47.0 L88.6 49.0 L89.0 51.0 L89.3 53.0 L89.7 55.0 L90.1 57.0 L90.5 59.0 L90.9 61.0 L91.3 63.0 L91.7 65.0 L92.1 67.0 L92.6 69.0 L93.0 71.0 L93.5 73.0 L93.9 75.0 L94.4 77.0 L94.9 79.0 L95.4 81.0 L95.9 83.0 L96.4 85.0 L97.0 87.0 L97.5 89.0 L98.1 91.0 L98.7 93.0 L99.3 95.0 L99.9 97.0 L100.5 99.0 L101.1 101.0 L101.8 103.0 L102.5 105.0 L103.2 107.0 L103.9 109.0 L104.6 111.0 L105.3 113.0 L106.1 115.0 L106.9 117.0 L107.7 119.0 L108.6 121.0 L109.4 123.0 L110.3 125.0 L111.2 127.0 L112.2 129.0 L113.1 131.0 L114.1 133.0 L115.2 135.0 L116.2 137.0 L117.3 139.0 L118.5 141.0 L119.6 143.0 L120.9 145.0 L122.1 147.0 L123.4 149.0 L124.7 151.0 L126.1 153.0 L127.6 155.0 L129.0 157.0 L130.6 159.0 L132.2 161.0 L133.8 163.0 L135.6 165.0 L137.4 167.0 L139.2 169.0 L141.1 171.0 L143.1 173.0 L145.2 174.9 L147.2 176.8 L149.2 178.6 L151.3 180.3 L153.3 182.0 L155.3 183.6 L157.3 185.2 L159.4 186.7 L161.4 188.1 L163.4 189.5 L165.4 190.9 L167.4 192.2 L169.5 193.5 L171.5 194.7 L173.5 195.9 L175.5 197.1 L177.5 198.2 L179.5 199.3 L181.6 200.4 L183.6 201.4 L185.6 202.4 L187.6 203.4 L189.6 204.4 L191.6 205.3 L193.6 206.2 L195.6 207.1 L197.7 208.0 L199.7 208.8 L201.7 209.7 L203.7 210.5 L205.7 211.3 L207.7 212.1 L209.7 212.8 L211.7 213.6 L213.7 214.3 L215.7 215.0 L217.7 215.7 L219.7 216.4 L221.7 217.0 L223.7 217.7 L225.8 218.3 L227.8 219.0 L229.8 219.6 L231.8 220.2 L233.8 220.8 L235.8 221.3 L237.8 221.9 L239.8 222.5 L241.8 223.0 L243.8 223.6 L245.8 224.1 L247.8 224.6 L249.8 225.1 L251.8 225.6 L253.8 226.1 L255.8 226.6 L257.8 227.1 L259.8 227.5 L261.8 228.0 L263.8 228.5 L265.8 228.9 L267.8 229.4 L269.8 229.8 L271.8 230.2 L273.8 230.6 L275.8 231.0 L277.8 231.5 L279.7 231.9 L281.7 232.2 L283.7 232.6 L285.7 233.0 L287.7 233.4 L289.7 233.8 L291.7 234.1 L293.7 234.5 L295.7 234.9 L297.7 235.2 L299.7 235.6 L301.7 235.9 L303.7 236.2 L305.7 236.6 L307.7 236.9 L309.7 237.2 L311.7 237.5 L313.7 237.9 L315.6 238.2 L317.6 238.5 L319.6 238.8 L321.6 239.1 L323.6 239.4 L325.7 239.7 L327.7 240.0 L329.8 240.3 L331.9 240.6 L334.1 240.9 L336.3 241.2 L338.5 241.5 L340.7 241.8 L342.9 242.1 L345.2 242.4 L347.5 242.7 L349.9 243.0 L352.3 243.3 L354.7 243.6 L357.1 243.9 L359.6 244.2 L362.1 244.5 L364.7 244.8 L367.3 245.1 L369.9 245.4 L372.5 245.7 L375.2 246.0 L378.0 246.3 L380.7 246.6 L383.5 246.9 L386.4 247.2 L389.3 247.5 L392.2 247.8 L395.2 248.1 L398.2 248.4 L401.3 248.7 L404.4 249.0 L407.5 249.3 L410.7 249.6 L414.0 249.9" fill="none" stroke="#000" stroke-width="1.3"/>
<path d="M87.9 -3.0 L88.2 -1.0 L88.5 1.0 L88.9 3.0 L89.2 5.0 L89.5 7.0 L89.9 9.0 L90.2 11.0 L90.6 13.0 L91.0 15.0 L91.3 17.0 L91.7 19.0 L92.1 21.0 L92.5 23.0 L92.9 25.0 L93.3 27.0 L93.7 29.0 L94.1 31.0 L94.5 33.0 L95.0 35.0 L95.4 37.0 L95.8 39.0 L96.3 41.0 L96.8 43.0 L97.3 45.0 L97.7 47.0 L98.2 49.0 L98.7 51.0 L99.3 53.0 L99.8 55.0 L100.3 57.0 L100.9 59.0 L101.4 61.0 L102.0 63.0 L102.6 65.0 L103.2 67.0 L103.8 69.0 L104.4 71.0 L105.1 73.0 L105.7 75.0 L106.4 77.0 L107.1 79.0 L107.8 81.0 L108.5 83.0 L109.2 85.0 L110.0 87.0 L110.7 89.0 L111.5 91.0 L112.3 93.0 L113.2 95.0 L114.0 97.0 L114.9 99.0 L115.8 101.0 L116.7 103.0 L117.6 105.0 L118.6 107.0 L119.5 109.0 L120.6 111.0 L121.6 113.0 L122.7 115.0 L123.7 117.0 L124.9 119.0 L126.0 121.0 L127.2 123.0 L128.4 125.0 L129.7 127.0 L131.0 129.0 L132.3 131.0 L133.7 133.0 L135.1 135.0 L136.6 137.0 L138.1 139.0 L139.6 141.0 L141.2 143.0 L142.9 145.0 L144.6 147.0 L146.4 149.0 L148.2 151.0 L150.1 153.0 L152.0 155.0 L154.0 157.0 L156.1 158.9 L158.1 160.8 L160.1 162.6 L162.1 164.4 L164.2 166.1 L166.2 167.7 L168.2 169.3 L170.2 170.9 L172.2 172.4 L174.3 173.8 L176.3 175.2 L178.3 176.6 L180.3 178.0 L182.3 179.3 L184.3 180.5 L186.4 181.8 L188.4 183.0 L190.4 184.1 L192.4 185.3 L194.4 186.4 L196.4 187.5 L198.4 188.6 L200.5 189.6 L202.5 190.6 L204.5 191.6 L206.5 192.6 L208.5 193.5 L210.5 194.4 L212.5 195.3 L214.5 196.2 L216.5 197.1 L218.5 198.0 L220.6 198.8 L222.6 199.6 L224.6 200.4 L226.6 201.2 L228.6 202.0 L230.6 202.7 L232.6 203.5 L234.6 204.2 L236.6 204.9 L238.6 205.6 L240.6 206.3 L242.6 206.9 L244.6 207.6 L246.6 208.3 L248.6 208.9 L250.6 209.5 L252.6 210.1 L254.6 210.8 L256.7 211.3 L258.7 211.9 L260.7 212.5 L262.7 213.1 L264.7 213.6 L266.7 214.2 L268.7 214.7 L270.7 215.3 L272.7 215.8 L274.7 216.3 L276.7 216.8 L278.7 217.3 L280.7 217.8 L282.7 218.3 L284.7 218.8 L286.7 219.2 L288.7 219.7 L290.7 220.2 L292.7 220.6 L294.7 221.1 L296.7 221.5 L298.7 221.9 L300.7 222.4 L302.6 222.8 L304.6 223.2 L306.6 223.6 L308.6 224.0 L310.6 224.4 L312.6 224.8 L314.6 225.2 L316.6 225.6 L318.6 226.0 L320.6 226.3 L322.6 226.7 L324.6 227.1 L326.6 227.4 L328.6 227.8 L330.6 228.1 L332.6 228.5 L334.6 228.8 L336.6 229.2 L338.6 229.5 L340.6 229.8 L342.6 230.2 L344.6 230.5 L346.5 230.8 L348.5 231.1 L350.5 231.4 L352.5 231.7 L354.5 232.1 L356.5 232.4 L358.5 232.7 L360.5 233.0 L362.6 233.3 L364.6 233.6 L366.7 233.9 L368.8 234.2 L371.0 234.5 L373.1 234.8 L375.3 235.1 L377.5 235.4 L379.8 235.7 L382.0 236.0 L384.3 236.3 L386.6 236.6 L389.0 236.9 L391.3 237.2 L393.7 237.5 L396.2 237.8 L398.6 238.1 L401.1 238.4 L403.6 238.7 L406.2 239.0 L408.8 239.3 L411.4 239.6 L414.0 239.9" fill="none" stroke="#000" stroke-width="1.3"/>
<line x1="267.3" y1="0" x2="267.3" y2="257" stroke="#000" stroke-width="1.2" stroke-dasharray="4.5 3.6"/>
</g>
<line x1="53.1" y1="0" x2="53.1" y2="257.7" stroke="#7a7a7a" stroke-width="1.8"/>
<line x1="53.3" y1="0.5" x2="408.2" y2="0.5" stroke="#555" stroke-width="1"/>
<line x1="407.7" y1="0" x2="407.7" y2="257.7" stroke="#000" stroke-width="1.2"/>
<line x1="52.2" y1="257.1" x2="408.4" y2="257.1" stroke="#000" stroke-width="1.5"/>
<line x1="57.4" y1="0" x2="57.4" y2="4.5" stroke="#333" stroke-width="0.8"/>
<line x1="57.4" y1="257" x2="57.4" y2="253" stroke="#333" stroke-width="0.8"/>
<text transform="translate(59.9,274.4) scale(1.05,1)" font-size="16.7" text-anchor="middle">0</text>
<line x1="101.9" y1="0" x2="101.9" y2="4.5" stroke="#333" stroke-width="0.8"/>
<text transform="translate(104.4,274.4) scale(1.05,1)" font-size="16.7" text-anchor="middle">2</text>
<line x1="146.3" y1="0" x2="146.3" y2="4.5" stroke="#333" stroke-width="0.8"/>
<text transform="translate(148.9,274.4) scale(1.05,1)" font-size="16.7" text-anchor="middle">4</text>
<line x1="190.8" y1="0" x2="190.8" y2="4.5" stroke="#333" stroke-width="0.8"/>
<text transform="translate(193.5,274.4) scale(1.05,1)" font-size="16.7" text-anchor="middle">6</text>
<line x1="235.2" y1="0" x2="235.2" y2="4.5" stroke="#333" stroke-width="0.8"/>
<text transform="translate(238.0,274.4) scale(1.05,1)" font-size="16.7" text-anchor="middle">8</text>
<line x1="279.7" y1="0" x2="279.7" y2="4.5" stroke="#333" stroke-width="0.8"/>
<text transform="translate(282.5,274.4) scale(1.05,1)" font-size="16.7" text-anchor="middle">10</text>
<line x1="324.1" y1="0" x2="324.1" y2="4.5" stroke="#333" stroke-width="0.8"/>
<text transform="translate(327.0,274.4) scale(1.05,1)" font-size="16.7" text-anchor="middle">12</text>
<line x1="368.6" y1="0" x2="368.6" y2="4.5" stroke="#333" stroke-width="0.8"/>
<text transform="translate(371.5,274.4) scale(1.05,1)" font-size="16.7" text-anchor="middle">14</text>
<line x1="53.8" y1="255.4" x2="58" y2="255.4" stroke="#333" stroke-width="0.8"/>
<text transform="translate(49.3,261.2) scale(1.05,1)" font-size="16.7" text-anchor="end">20</text>
<line x1="53.8" y1="209.6" x2="58" y2="209.6" stroke="#333" stroke-width="0.8"/>
<line x1="407.7" y1="209.6" x2="403.2" y2="209.6" stroke="#333" stroke-width="0.8"/>
<text transform="translate(49.3,215.4) scale(1.05,1)" font-size="16.7" text-anchor="end">40</text>
<line x1="53.8" y1="163.8" x2="58" y2="163.8" stroke="#333" stroke-width="0.8"/>
<line x1="407.7" y1="163.8" x2="403.2" y2="163.8" stroke="#333" stroke-width="0.8"/>
<text transform="translate(49.3,169.6) scale(1.05,1)" font-size="16.7" text-anchor="end">60</text>
<line x1="53.8" y1="118.0" x2="58" y2="118.0" stroke="#333" stroke-width="0.8"/>
<line x1="407.7" y1="118.0" x2="403.2" y2="118.0" stroke="#333" stroke-width="0.8"/>
<text transform="translate(49.3,123.8) scale(1.05,1)" font-size="16.7" text-anchor="end">80</text>
<line x1="53.8" y1="72.2" x2="58" y2="72.2" stroke="#333" stroke-width="0.8"/>
<line x1="407.7" y1="72.2" x2="403.2" y2="72.2" stroke="#333" stroke-width="0.8"/>
<text transform="translate(49.3,78.0) scale(1.05,1)" font-size="16.7" text-anchor="end">100</text>
<line x1="53.8" y1="26.4" x2="58" y2="26.4" stroke="#333" stroke-width="0.8"/>
<line x1="407.7" y1="26.4" x2="403.2" y2="26.4" stroke="#333" stroke-width="0.8"/>
<text transform="translate(49.3,32.2) scale(1.05,1)" font-size="16.7" text-anchor="end">120</text>
<text x="130.3" y="291.8" font-size="16.6" textLength="199.6" lengthAdjust="spacingAndGlyphs">angular velocity, rad/day</text>
<text transform="translate(12.8,129) rotate(-90) scale(1.09,1)" font-size="16.6" text-anchor="middle">q, km</text>
<text class="dj" x="351.3" y="34.6" font-size="24">(b)</text>
<text class="dj" transform="translate(102.6,15.6) scale(1.04,1)" font-size="17.7">2:3</text>
<text class="dj" transform="translate(116.3,33.1) scale(1.04,1)" font-size="17.7">1:2</text>
<text class="dj" transform="translate(53.3,181.2) scale(1.04,1)" font-size="17.7">5:6</text>
<text class="dj" transform="translate(64.3,207.6) scale(1.04,1)" font-size="17.7">4:3</text>
<text class="dj" transform="translate(73.3,234.2) scale(1.04,1)" font-size="17.7">2:1</text>
<line x1="103.5" y1="13.0" x2="89.1" y2="14.1" stroke="#000" stroke-width="1"/><polygon points="83.6,14.5 89.9,11.7 90.3,16.3" fill="#000"/>
<line x1="116.2" y1="25.3" x2="100.2" y2="29.9" stroke="#000" stroke-width="1"/><polygon points="94.9,31.4 100.5,27.4 101.8,31.8" fill="#000"/>
<line x1="69.0" y1="163.6" x2="95.5" y2="124.6" stroke="#000" stroke-width="1"/><polygon points="98.6,120.0 96.9,126.7 93.0,124.1" fill="#000"/>
<line x1="79.4" y1="190.9" x2="89.4" y2="157.6" stroke="#000" stroke-width="1"/><polygon points="91.0,152.3 91.3,159.2 86.9,157.9" fill="#000"/>
<line x1="87.9" y1="217.3" x2="95.8" y2="207.3" stroke="#000" stroke-width="1"/><polygon points="99.2,203.0 97.0,209.5 93.4,206.7" fill="#000"/>
</g>
</svg></body></html>
